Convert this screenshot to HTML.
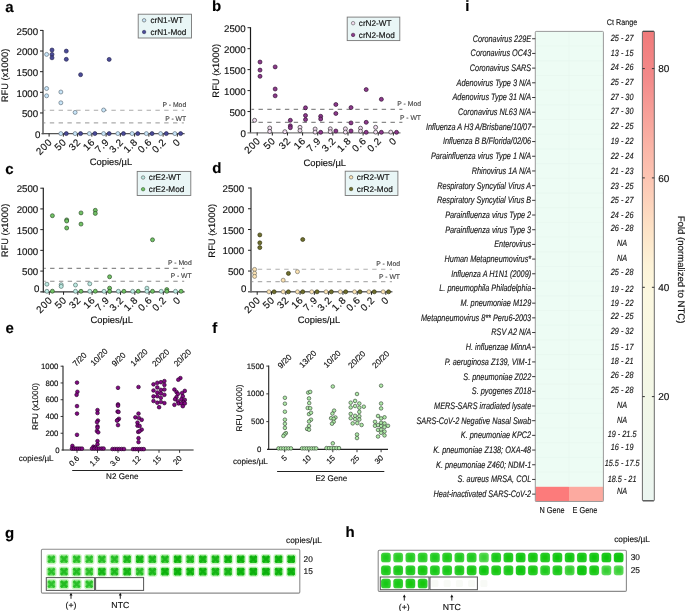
<!DOCTYPE html>
<html><head><meta charset="utf-8"><title>Figure</title>
<style>
html,body{margin:0;padding:0;background:#fff;}
body{width:685px;height:611px;overflow:hidden;}
svg{display:block;will-change:transform;filter:blur(0.3px);text-rendering:geometricPrecision;font-family:"Liberation Sans",sans-serif;}
text{stroke:#111;stroke-width:0.15px;}
text.g{stroke:#3c3c3c;stroke-width:0.1px;}
</style></head>
<body>
<svg width="685" height="611" viewBox="0 0 685 611">
<rect x="0" y="0" width="685" height="611" fill="#fff"/>
<defs><filter id="bl" x="-30%" y="-30%" width="160%" height="160%"><feGaussianBlur stdDeviation="0.45"/></filter><filter id="bl2" x="-30%" y="-30%" width="160%" height="160%"><feGaussianBlur stdDeviation="0.8"/></filter></defs>
<text x="5.20" y="11.50" font-size="15" text-anchor="start" fill="#000" font-weight="bold">a</text>
<text x="212.00" y="11.40" font-size="15" text-anchor="start" fill="#000" font-weight="bold">b</text>
<text x="5.20" y="173.50" font-size="15" text-anchor="start" fill="#000" font-weight="bold">c</text>
<text x="212.20" y="173.40" font-size="15" text-anchor="start" fill="#000" font-weight="bold">d</text>
<text x="5.60" y="333.00" font-size="15" text-anchor="start" fill="#000" font-weight="bold">e</text>
<text x="212.20" y="332.80" font-size="15" text-anchor="start" fill="#000" font-weight="bold">f</text>
<text x="5.00" y="537.90" font-size="15" text-anchor="start" fill="#000" font-weight="bold">g</text>
<text x="345.50" y="537.40" font-size="15" text-anchor="start" fill="#000" font-weight="bold">h</text>
<text x="465.20" y="11.30" font-size="15" text-anchor="start" fill="#000" font-weight="bold">i</text>
<line x1="44.00" y1="110.30" x2="183.90" y2="110.30" stroke="#ababab" stroke-width="1.1" stroke-dasharray="4.4,4.4" stroke-dashoffset="3"/>
<line x1="44.00" y1="122.90" x2="183.90" y2="122.90" stroke="#ababab" stroke-width="1.1" stroke-dasharray="4.4,4.4" stroke-dashoffset="3"/>
<text x="186.20" y="106.70" font-size="6.8" text-anchor="end" fill="#3c3c3c" class="g">P - Mod</text>
<text x="186.20" y="120.80" font-size="6.8" text-anchor="end" fill="#3c3c3c" class="g">P - WT</text>
<line x1="43.00" y1="29.90" x2="43.00" y2="134.20" stroke="#707070" stroke-width="1.7"/>
<line x1="41.50" y1="133.60" x2="184.60" y2="133.60" stroke="#555" stroke-width="1.4"/>
<text x="40.40" y="137.50" font-size="9.7" text-anchor="end" fill="#111">0</text>
<line x1="40.00" y1="112.96" x2="43.00" y2="112.96" stroke="#222" stroke-width="1"/>
<text x="38.10" y="117.16" font-size="9.7" text-anchor="end" fill="#111">500</text>
<line x1="40.00" y1="92.32" x2="43.00" y2="92.32" stroke="#222" stroke-width="1"/>
<text x="38.10" y="96.52" font-size="9.7" text-anchor="end" fill="#111">1000</text>
<line x1="40.00" y1="71.68" x2="43.00" y2="71.68" stroke="#222" stroke-width="1"/>
<text x="38.10" y="75.88" font-size="9.7" text-anchor="end" fill="#111">1500</text>
<line x1="40.00" y1="51.04" x2="43.00" y2="51.04" stroke="#222" stroke-width="1"/>
<text x="38.10" y="55.24" font-size="9.7" text-anchor="end" fill="#111">2000</text>
<line x1="40.00" y1="30.40" x2="43.00" y2="30.40" stroke="#222" stroke-width="1"/>
<text x="38.10" y="34.60" font-size="9.7" text-anchor="end" fill="#111">2500</text>
<line x1="49.10" y1="133.60" x2="49.10" y2="136.60" stroke="#222" stroke-width="1"/>
<text x="0.00" y="0.00" font-size="9.9" text-anchor="end" fill="#111" transform="translate(52.90,142.60) rotate(-45)" letter-spacing="0.55">200</text>
<line x1="63.35" y1="133.60" x2="63.35" y2="136.60" stroke="#222" stroke-width="1"/>
<text x="0.00" y="0.00" font-size="9.9" text-anchor="end" fill="#111" transform="translate(67.15,142.60) rotate(-45)" letter-spacing="0.55">50</text>
<line x1="77.60" y1="133.60" x2="77.60" y2="136.60" stroke="#222" stroke-width="1"/>
<text x="0.00" y="0.00" font-size="9.9" text-anchor="end" fill="#111" transform="translate(81.40,142.60) rotate(-45)" letter-spacing="0.55">32</text>
<line x1="91.85" y1="133.60" x2="91.85" y2="136.60" stroke="#222" stroke-width="1"/>
<text x="0.00" y="0.00" font-size="9.9" text-anchor="end" fill="#111" transform="translate(95.65,142.60) rotate(-45)" letter-spacing="0.55">16</text>
<line x1="106.10" y1="133.60" x2="106.10" y2="136.60" stroke="#222" stroke-width="1"/>
<text x="0.00" y="0.00" font-size="9.9" text-anchor="end" fill="#111" transform="translate(109.90,142.60) rotate(-45)" letter-spacing="0.55">7.9</text>
<line x1="120.35" y1="133.60" x2="120.35" y2="136.60" stroke="#222" stroke-width="1"/>
<text x="0.00" y="0.00" font-size="9.9" text-anchor="end" fill="#111" transform="translate(124.15,142.60) rotate(-45)" letter-spacing="0.55">3.2</text>
<line x1="134.60" y1="133.60" x2="134.60" y2="136.60" stroke="#222" stroke-width="1"/>
<text x="0.00" y="0.00" font-size="9.9" text-anchor="end" fill="#111" transform="translate(138.40,142.60) rotate(-45)" letter-spacing="0.55">1.8</text>
<line x1="148.85" y1="133.60" x2="148.85" y2="136.60" stroke="#222" stroke-width="1"/>
<text x="0.00" y="0.00" font-size="9.9" text-anchor="end" fill="#111" transform="translate(152.65,142.60) rotate(-45)" letter-spacing="0.55">0.6</text>
<line x1="163.10" y1="133.60" x2="163.10" y2="136.60" stroke="#222" stroke-width="1"/>
<text x="0.00" y="0.00" font-size="9.9" text-anchor="end" fill="#111" transform="translate(166.90,142.60) rotate(-45)" letter-spacing="0.55">0.2</text>
<line x1="177.35" y1="133.60" x2="177.35" y2="136.60" stroke="#222" stroke-width="1"/>
<text x="0.00" y="0.00" font-size="9.9" text-anchor="end" fill="#111" transform="translate(181.15,142.60) rotate(-45)" letter-spacing="0.55">0</text>
<text x="0.00" y="0.00" font-size="9.4" text-anchor="middle" fill="#111" transform="translate(8.30,75.50) rotate(-90)">RFU (x1000)</text>
<text x="111.00" y="164.60" font-size="9.4" text-anchor="middle" fill="#111">Copies/µL</text>
<rect x="138.20" y="14.20" width="53.30" height="23.80" fill="#e9f6f6" stroke="#777" stroke-width="0.9" rx="0"/>
<circle cx="144.10" cy="20.30" r="1.75" fill="#c8e6fa" stroke="#555" stroke-width="0.6"/>
<circle cx="144.10" cy="32.00" r="1.75" fill="#4b4b98" stroke="#24244e" stroke-width="0.5"/>
<text x="150.40" y="23.20" font-size="8.2" text-anchor="start" fill="#111">crN1-WT</text>
<text x="150.40" y="35.10" font-size="8.2" text-anchor="start" fill="#111">crN1-Mod</text>
<circle cx="46.60" cy="54.40" r="2.0" fill="#c8e6fa" stroke="#5d6a76" stroke-width="0.65"/>
<circle cx="46.60" cy="88.50" r="2.0" fill="#c8e6fa" stroke="#5d6a76" stroke-width="0.65"/>
<circle cx="46.60" cy="95.80" r="2.0" fill="#c8e6fa" stroke="#5d6a76" stroke-width="0.65"/>
<circle cx="60.85" cy="92.00" r="2.0" fill="#c8e6fa" stroke="#5d6a76" stroke-width="0.65"/>
<circle cx="60.85" cy="102.80" r="2.0" fill="#c8e6fa" stroke="#5d6a76" stroke-width="0.65"/>
<circle cx="60.85" cy="133.60" r="2.0" fill="#c8e6fa" stroke="#5d6a76" stroke-width="0.65"/>
<circle cx="75.10" cy="112.40" r="2.0" fill="#c8e6fa" stroke="#5d6a76" stroke-width="0.65"/>
<circle cx="75.10" cy="133.60" r="2.0" fill="#c8e6fa" stroke="#5d6a76" stroke-width="0.65"/>
<circle cx="89.35" cy="133.60" r="2.0" fill="#c8e6fa" stroke="#5d6a76" stroke-width="0.65"/>
<circle cx="103.60" cy="110.00" r="2.0" fill="#c8e6fa" stroke="#5d6a76" stroke-width="0.65"/>
<circle cx="103.60" cy="133.60" r="2.0" fill="#c8e6fa" stroke="#5d6a76" stroke-width="0.65"/>
<circle cx="117.85" cy="133.60" r="2.0" fill="#c8e6fa" stroke="#5d6a76" stroke-width="0.65"/>
<circle cx="132.10" cy="133.60" r="2.0" fill="#c8e6fa" stroke="#5d6a76" stroke-width="0.65"/>
<circle cx="146.35" cy="133.60" r="2.0" fill="#c8e6fa" stroke="#5d6a76" stroke-width="0.65"/>
<circle cx="160.60" cy="133.60" r="2.0" fill="#c8e6fa" stroke="#5d6a76" stroke-width="0.65"/>
<circle cx="174.85" cy="133.60" r="2.0" fill="#c8e6fa" stroke="#5d6a76" stroke-width="0.65"/>
<circle cx="52.00" cy="50.00" r="2.0" fill="#4b4b98" stroke="#24244e" stroke-width="0.65"/>
<circle cx="52.00" cy="54.40" r="2.0" fill="#4b4b98" stroke="#24244e" stroke-width="0.65"/>
<circle cx="52.00" cy="57.80" r="2.0" fill="#4b4b98" stroke="#24244e" stroke-width="0.65"/>
<circle cx="66.29" cy="51.10" r="2.0" fill="#4b4b98" stroke="#24244e" stroke-width="0.65"/>
<circle cx="66.29" cy="59.30" r="2.0" fill="#4b4b98" stroke="#24244e" stroke-width="0.65"/>
<circle cx="66.29" cy="133.60" r="2.0" fill="#4b4b98" stroke="#24244e" stroke-width="0.65"/>
<circle cx="80.58" cy="74.70" r="2.0" fill="#4b4b98" stroke="#24244e" stroke-width="0.65"/>
<circle cx="80.58" cy="133.60" r="2.0" fill="#4b4b98" stroke="#24244e" stroke-width="0.65"/>
<circle cx="94.87" cy="133.60" r="2.0" fill="#4b4b98" stroke="#24244e" stroke-width="0.65"/>
<circle cx="109.16" cy="59.40" r="2.0" fill="#4b4b98" stroke="#24244e" stroke-width="0.65"/>
<circle cx="109.16" cy="133.60" r="2.0" fill="#4b4b98" stroke="#24244e" stroke-width="0.65"/>
<circle cx="123.45" cy="133.60" r="2.0" fill="#4b4b98" stroke="#24244e" stroke-width="0.65"/>
<circle cx="137.74" cy="133.60" r="2.0" fill="#4b4b98" stroke="#24244e" stroke-width="0.65"/>
<circle cx="152.03" cy="133.60" r="2.0" fill="#4b4b98" stroke="#24244e" stroke-width="0.65"/>
<circle cx="166.32" cy="133.60" r="2.0" fill="#4b4b98" stroke="#24244e" stroke-width="0.65"/>
<circle cx="180.61" cy="133.60" r="2.0" fill="#4b4b98" stroke="#24244e" stroke-width="0.65"/>
<line x1="251.50" y1="109.40" x2="402.40" y2="109.40" stroke="#8a8a8a" stroke-width="1.1" stroke-dasharray="4.4,4.4" stroke-dashoffset="1.8"/>
<line x1="251.50" y1="122.40" x2="402.40" y2="122.40" stroke="#8a8a8a" stroke-width="1.1" stroke-dasharray="4.4,4.4" stroke-dashoffset="1.8"/>
<text x="421.00" y="106.20" font-size="6.8" text-anchor="end" fill="#3c3c3c" class="g">P - Mod</text>
<text x="421.00" y="119.80" font-size="6.8" text-anchor="end" fill="#3c3c3c" class="g">P - WT</text>
<line x1="250.50" y1="27.20" x2="250.50" y2="133.10" stroke="#1a1a1a" stroke-width="1.2"/>
<line x1="247.50" y1="132.90" x2="400.50" y2="132.90" stroke="#7a7a7a" stroke-width="1.3"/>
<text x="245.90" y="136.60" font-size="9.7" text-anchor="end" fill="#111">0</text>
<line x1="247.50" y1="111.54" x2="250.50" y2="111.54" stroke="#222" stroke-width="1"/>
<text x="245.60" y="115.74" font-size="9.7" text-anchor="end" fill="#111">500</text>
<line x1="247.50" y1="90.58" x2="250.50" y2="90.58" stroke="#222" stroke-width="1"/>
<text x="245.60" y="94.78" font-size="9.7" text-anchor="end" fill="#111">1000</text>
<line x1="247.50" y1="69.62" x2="250.50" y2="69.62" stroke="#222" stroke-width="1"/>
<text x="245.60" y="73.82" font-size="9.7" text-anchor="end" fill="#111">1500</text>
<line x1="247.50" y1="48.66" x2="250.50" y2="48.66" stroke="#222" stroke-width="1"/>
<text x="245.60" y="52.86" font-size="9.7" text-anchor="end" fill="#111">2000</text>
<line x1="247.50" y1="27.70" x2="250.50" y2="27.70" stroke="#222" stroke-width="1"/>
<text x="245.60" y="31.90" font-size="9.7" text-anchor="end" fill="#111">2500</text>
<line x1="257.20" y1="132.50" x2="257.20" y2="135.50" stroke="#222" stroke-width="1"/>
<text x="0.00" y="0.00" font-size="9.9" text-anchor="end" fill="#111" transform="translate(261.00,141.50) rotate(-45)" letter-spacing="0.55">200</text>
<line x1="272.33" y1="132.50" x2="272.33" y2="135.50" stroke="#222" stroke-width="1"/>
<text x="0.00" y="0.00" font-size="9.9" text-anchor="end" fill="#111" transform="translate(276.13,141.50) rotate(-45)" letter-spacing="0.55">50</text>
<line x1="287.46" y1="132.50" x2="287.46" y2="135.50" stroke="#222" stroke-width="1"/>
<text x="0.00" y="0.00" font-size="9.9" text-anchor="end" fill="#111" transform="translate(291.26,141.50) rotate(-45)" letter-spacing="0.55">32</text>
<line x1="302.59" y1="132.50" x2="302.59" y2="135.50" stroke="#222" stroke-width="1"/>
<text x="0.00" y="0.00" font-size="9.9" text-anchor="end" fill="#111" transform="translate(306.39,141.50) rotate(-45)" letter-spacing="0.55">16</text>
<line x1="317.72" y1="132.50" x2="317.72" y2="135.50" stroke="#222" stroke-width="1"/>
<text x="0.00" y="0.00" font-size="9.9" text-anchor="end" fill="#111" transform="translate(321.52,141.50) rotate(-45)" letter-spacing="0.55">7.9</text>
<line x1="332.85" y1="132.50" x2="332.85" y2="135.50" stroke="#222" stroke-width="1"/>
<text x="0.00" y="0.00" font-size="9.9" text-anchor="end" fill="#111" transform="translate(336.65,141.50) rotate(-45)" letter-spacing="0.55">3.2</text>
<line x1="347.98" y1="132.50" x2="347.98" y2="135.50" stroke="#222" stroke-width="1"/>
<text x="0.00" y="0.00" font-size="9.9" text-anchor="end" fill="#111" transform="translate(351.78,141.50) rotate(-45)" letter-spacing="0.55">1.8</text>
<line x1="363.11" y1="132.50" x2="363.11" y2="135.50" stroke="#222" stroke-width="1"/>
<text x="0.00" y="0.00" font-size="9.9" text-anchor="end" fill="#111" transform="translate(366.91,141.50) rotate(-45)" letter-spacing="0.55">0.6</text>
<line x1="378.24" y1="132.50" x2="378.24" y2="135.50" stroke="#222" stroke-width="1"/>
<text x="0.00" y="0.00" font-size="9.9" text-anchor="end" fill="#111" transform="translate(382.04,141.50) rotate(-45)" letter-spacing="0.55">0.2</text>
<line x1="393.37" y1="132.50" x2="393.37" y2="135.50" stroke="#222" stroke-width="1"/>
<text x="0.00" y="0.00" font-size="9.9" text-anchor="end" fill="#111" transform="translate(397.17,141.50) rotate(-45)" letter-spacing="0.55">0</text>
<text x="0.00" y="0.00" font-size="9.4" text-anchor="middle" fill="#111" transform="translate(219.00,70.80) rotate(-90)">RFU (x1000)</text>
<text x="324.80" y="165.50" font-size="9.4" text-anchor="middle" fill="#111">Copies/µL</text>
<rect x="347.20" y="17.10" width="52.60" height="23.50" fill="#e9f6f6" stroke="#777" stroke-width="0.9" rx="0"/>
<circle cx="353.10" cy="23.20" r="1.75" fill="#f2dcf0" stroke="#555" stroke-width="0.6"/>
<circle cx="353.10" cy="34.90" r="1.75" fill="#8c3a8c" stroke="#2a0a2a" stroke-width="0.5"/>
<text x="358.80" y="26.10" font-size="8.2" text-anchor="start" fill="#111">crN2-WT</text>
<text x="358.80" y="38.00" font-size="8.2" text-anchor="start" fill="#111">crN2-Mod</text>
<circle cx="254.60" cy="120.30" r="2.0" fill="#f2dcf0" stroke="#222" stroke-width="0.65"/>
<circle cx="269.73" cy="128.00" r="2.0" fill="#f2dcf0" stroke="#222" stroke-width="0.65"/>
<circle cx="269.73" cy="131.40" r="2.0" fill="#f2dcf0" stroke="#222" stroke-width="0.65"/>
<circle cx="284.86" cy="131.70" r="2.0" fill="#f2dcf0" stroke="#222" stroke-width="0.65"/>
<circle cx="299.99" cy="127.30" r="2.0" fill="#f2dcf0" stroke="#222" stroke-width="0.65"/>
<circle cx="299.99" cy="130.60" r="2.0" fill="#f2dcf0" stroke="#222" stroke-width="0.65"/>
<circle cx="315.12" cy="129.00" r="2.0" fill="#f2dcf0" stroke="#222" stroke-width="0.65"/>
<circle cx="315.12" cy="132.10" r="2.0" fill="#f2dcf0" stroke="#222" stroke-width="0.65"/>
<circle cx="330.25" cy="128.80" r="2.0" fill="#f2dcf0" stroke="#222" stroke-width="0.65"/>
<circle cx="330.25" cy="131.70" r="2.0" fill="#f2dcf0" stroke="#222" stroke-width="0.65"/>
<circle cx="345.38" cy="128.80" r="2.0" fill="#f2dcf0" stroke="#222" stroke-width="0.65"/>
<circle cx="345.38" cy="132.10" r="2.0" fill="#f2dcf0" stroke="#222" stroke-width="0.65"/>
<circle cx="360.51" cy="128.20" r="2.0" fill="#f2dcf0" stroke="#222" stroke-width="0.65"/>
<circle cx="360.51" cy="131.20" r="2.0" fill="#f2dcf0" stroke="#222" stroke-width="0.65"/>
<circle cx="375.64" cy="127.30" r="2.0" fill="#f2dcf0" stroke="#222" stroke-width="0.65"/>
<circle cx="375.64" cy="132.10" r="2.0" fill="#f2dcf0" stroke="#222" stroke-width="0.65"/>
<circle cx="390.77" cy="132.10" r="2.0" fill="#f2dcf0" stroke="#222" stroke-width="0.65"/>
<circle cx="260.00" cy="62.00" r="2.0" fill="#8c3a8c" stroke="#2a0a2a" stroke-width="0.65"/>
<circle cx="260.00" cy="70.10" r="2.0" fill="#8c3a8c" stroke="#2a0a2a" stroke-width="0.65"/>
<circle cx="260.00" cy="76.30" r="2.0" fill="#8c3a8c" stroke="#2a0a2a" stroke-width="0.65"/>
<circle cx="275.17" cy="66.90" r="2.0" fill="#8c3a8c" stroke="#2a0a2a" stroke-width="0.65"/>
<circle cx="275.17" cy="89.00" r="2.0" fill="#8c3a8c" stroke="#2a0a2a" stroke-width="0.65"/>
<circle cx="275.17" cy="95.80" r="2.0" fill="#8c3a8c" stroke="#2a0a2a" stroke-width="0.65"/>
<circle cx="290.34" cy="120.30" r="2.0" fill="#8c3a8c" stroke="#2a0a2a" stroke-width="0.65"/>
<circle cx="290.34" cy="125.80" r="2.0" fill="#8c3a8c" stroke="#2a0a2a" stroke-width="0.65"/>
<circle cx="290.34" cy="127.70" r="2.0" fill="#8c3a8c" stroke="#2a0a2a" stroke-width="0.65"/>
<circle cx="305.51" cy="107.80" r="2.0" fill="#8c3a8c" stroke="#2a0a2a" stroke-width="0.65"/>
<circle cx="305.51" cy="115.50" r="2.0" fill="#8c3a8c" stroke="#2a0a2a" stroke-width="0.65"/>
<circle cx="305.51" cy="119.60" r="2.0" fill="#8c3a8c" stroke="#2a0a2a" stroke-width="0.65"/>
<circle cx="320.68" cy="116.30" r="2.0" fill="#8c3a8c" stroke="#2a0a2a" stroke-width="0.65"/>
<circle cx="320.68" cy="119.00" r="2.0" fill="#8c3a8c" stroke="#2a0a2a" stroke-width="0.65"/>
<circle cx="320.68" cy="132.30" r="2.0" fill="#8c3a8c" stroke="#2a0a2a" stroke-width="0.65"/>
<circle cx="335.85" cy="104.50" r="2.0" fill="#8c3a8c" stroke="#2a0a2a" stroke-width="0.65"/>
<circle cx="335.85" cy="113.50" r="2.0" fill="#8c3a8c" stroke="#2a0a2a" stroke-width="0.65"/>
<circle cx="335.85" cy="131.00" r="2.0" fill="#8c3a8c" stroke="#2a0a2a" stroke-width="0.65"/>
<circle cx="351.02" cy="107.60" r="2.0" fill="#8c3a8c" stroke="#2a0a2a" stroke-width="0.65"/>
<circle cx="351.02" cy="122.90" r="2.0" fill="#8c3a8c" stroke="#2a0a2a" stroke-width="0.65"/>
<circle cx="351.02" cy="131.00" r="2.0" fill="#8c3a8c" stroke="#2a0a2a" stroke-width="0.65"/>
<circle cx="366.19" cy="89.60" r="2.0" fill="#8c3a8c" stroke="#2a0a2a" stroke-width="0.65"/>
<circle cx="366.19" cy="122.30" r="2.0" fill="#8c3a8c" stroke="#2a0a2a" stroke-width="0.65"/>
<circle cx="366.19" cy="132.30" r="2.0" fill="#8c3a8c" stroke="#2a0a2a" stroke-width="0.65"/>
<circle cx="381.36" cy="99.30" r="2.0" fill="#8c3a8c" stroke="#2a0a2a" stroke-width="0.65"/>
<circle cx="381.36" cy="132.30" r="2.0" fill="#8c3a8c" stroke="#2a0a2a" stroke-width="0.65"/>
<circle cx="396.53" cy="132.30" r="2.0" fill="#8c3a8c" stroke="#2a0a2a" stroke-width="0.65"/>
<line x1="44.30" y1="268.40" x2="184.20" y2="268.40" stroke="#8a8a8a" stroke-width="1.1" stroke-dasharray="4.4,4.4" stroke-dashoffset="3"/>
<line x1="44.30" y1="281.30" x2="184.20" y2="281.30" stroke="#8a8a8a" stroke-width="1.1" stroke-dasharray="4.4,4.4" stroke-dashoffset="3"/>
<text x="191.70" y="265.00" font-size="6.8" text-anchor="end" fill="#3c3c3c" class="g">P - Mod</text>
<text x="191.70" y="278.40" font-size="6.8" text-anchor="end" fill="#3c3c3c" class="g">P - WT</text>
<line x1="43.30" y1="187.70" x2="43.30" y2="292.40" stroke="#222" stroke-width="1.2"/>
<line x1="40.30" y1="291.80" x2="184.60" y2="291.80" stroke="#333" stroke-width="1.3"/>
<text x="39.40" y="291.80" font-size="9.7" text-anchor="end" fill="#111">0</text>
<line x1="40.30" y1="271.08" x2="43.30" y2="271.08" stroke="#222" stroke-width="1"/>
<text x="38.20" y="275.28" font-size="9.7" text-anchor="end" fill="#111">500</text>
<line x1="40.30" y1="250.36" x2="43.30" y2="250.36" stroke="#222" stroke-width="1"/>
<text x="38.20" y="254.56" font-size="9.7" text-anchor="end" fill="#111">1000</text>
<line x1="40.30" y1="229.64" x2="43.30" y2="229.64" stroke="#222" stroke-width="1"/>
<text x="38.20" y="233.84" font-size="9.7" text-anchor="end" fill="#111">1500</text>
<line x1="40.30" y1="208.92" x2="43.30" y2="208.92" stroke="#222" stroke-width="1"/>
<text x="38.20" y="213.12" font-size="9.7" text-anchor="end" fill="#111">2000</text>
<line x1="40.30" y1="188.20" x2="43.30" y2="188.20" stroke="#222" stroke-width="1"/>
<text x="38.20" y="192.40" font-size="9.7" text-anchor="end" fill="#111">2500</text>
<line x1="49.30" y1="291.80" x2="49.30" y2="294.80" stroke="#222" stroke-width="1"/>
<text x="0.00" y="0.00" font-size="9.9" text-anchor="end" fill="#111" transform="translate(53.10,300.80) rotate(-45)" letter-spacing="0.55">200</text>
<line x1="63.55" y1="291.80" x2="63.55" y2="294.80" stroke="#222" stroke-width="1"/>
<text x="0.00" y="0.00" font-size="9.9" text-anchor="end" fill="#111" transform="translate(67.35,300.80) rotate(-45)" letter-spacing="0.55">50</text>
<line x1="77.80" y1="291.80" x2="77.80" y2="294.80" stroke="#222" stroke-width="1"/>
<text x="0.00" y="0.00" font-size="9.9" text-anchor="end" fill="#111" transform="translate(81.60,300.80) rotate(-45)" letter-spacing="0.55">32</text>
<line x1="92.05" y1="291.80" x2="92.05" y2="294.80" stroke="#222" stroke-width="1"/>
<text x="0.00" y="0.00" font-size="9.9" text-anchor="end" fill="#111" transform="translate(95.85,300.80) rotate(-45)" letter-spacing="0.55">16</text>
<line x1="106.30" y1="291.80" x2="106.30" y2="294.80" stroke="#222" stroke-width="1"/>
<text x="0.00" y="0.00" font-size="9.9" text-anchor="end" fill="#111" transform="translate(110.10,300.80) rotate(-45)" letter-spacing="0.55">7.9</text>
<line x1="120.55" y1="291.80" x2="120.55" y2="294.80" stroke="#222" stroke-width="1"/>
<text x="0.00" y="0.00" font-size="9.9" text-anchor="end" fill="#111" transform="translate(124.35,300.80) rotate(-45)" letter-spacing="0.55">3.2</text>
<line x1="134.80" y1="291.80" x2="134.80" y2="294.80" stroke="#222" stroke-width="1"/>
<text x="0.00" y="0.00" font-size="9.9" text-anchor="end" fill="#111" transform="translate(138.60,300.80) rotate(-45)" letter-spacing="0.55">1.8</text>
<line x1="149.05" y1="291.80" x2="149.05" y2="294.80" stroke="#222" stroke-width="1"/>
<text x="0.00" y="0.00" font-size="9.9" text-anchor="end" fill="#111" transform="translate(152.85,300.80) rotate(-45)" letter-spacing="0.55">0.6</text>
<line x1="163.30" y1="291.80" x2="163.30" y2="294.80" stroke="#222" stroke-width="1"/>
<text x="0.00" y="0.00" font-size="9.9" text-anchor="end" fill="#111" transform="translate(167.10,300.80) rotate(-45)" letter-spacing="0.55">0.2</text>
<line x1="177.55" y1="291.80" x2="177.55" y2="294.80" stroke="#222" stroke-width="1"/>
<text x="0.00" y="0.00" font-size="9.9" text-anchor="end" fill="#111" transform="translate(181.35,300.80) rotate(-45)" letter-spacing="0.55">0</text>
<text x="0.00" y="0.00" font-size="9.4" text-anchor="middle" fill="#111" transform="translate(8.30,230.50) rotate(-90)">RFU (x1000)</text>
<text x="111.70" y="322.70" font-size="9.4" text-anchor="middle" fill="#111">Copies/µL</text>
<rect x="137.20" y="171.40" width="53.60" height="24.10" fill="#e9f6f6" stroke="#777" stroke-width="0.9" rx="0"/>
<circle cx="143.10" cy="177.50" r="1.75" fill="#bdeae2" stroke="#555" stroke-width="0.6"/>
<circle cx="143.10" cy="189.20" r="1.75" fill="#72c266" stroke="#2a4a26" stroke-width="0.5"/>
<text x="148.80" y="180.40" font-size="8.2" text-anchor="start" fill="#111">crE2-WT</text>
<text x="148.80" y="192.30" font-size="8.2" text-anchor="start" fill="#111">crE2-Mod</text>
<circle cx="46.90" cy="284.20" r="2.0" fill="#bdeae2" stroke="#4f6a66" stroke-width="0.65"/>
<circle cx="46.90" cy="291.30" r="2.0" fill="#bdeae2" stroke="#4f6a66" stroke-width="0.65"/>
<circle cx="61.19" cy="284.70" r="2.0" fill="#bdeae2" stroke="#4f6a66" stroke-width="0.65"/>
<circle cx="61.19" cy="286.40" r="2.0" fill="#bdeae2" stroke="#4f6a66" stroke-width="0.65"/>
<circle cx="75.48" cy="285.00" r="2.0" fill="#bdeae2" stroke="#4f6a66" stroke-width="0.65"/>
<circle cx="75.48" cy="291.30" r="2.0" fill="#bdeae2" stroke="#4f6a66" stroke-width="0.65"/>
<circle cx="89.77" cy="283.80" r="2.0" fill="#bdeae2" stroke="#4f6a66" stroke-width="0.65"/>
<circle cx="89.77" cy="291.30" r="2.0" fill="#bdeae2" stroke="#4f6a66" stroke-width="0.65"/>
<circle cx="104.06" cy="291.30" r="2.0" fill="#bdeae2" stroke="#4f6a66" stroke-width="0.65"/>
<circle cx="118.35" cy="291.30" r="2.0" fill="#bdeae2" stroke="#4f6a66" stroke-width="0.65"/>
<circle cx="132.64" cy="291.30" r="2.0" fill="#bdeae2" stroke="#4f6a66" stroke-width="0.65"/>
<circle cx="146.93" cy="288.20" r="2.0" fill="#bdeae2" stroke="#4f6a66" stroke-width="0.65"/>
<circle cx="146.93" cy="291.30" r="2.0" fill="#bdeae2" stroke="#4f6a66" stroke-width="0.65"/>
<circle cx="161.22" cy="291.30" r="2.0" fill="#bdeae2" stroke="#4f6a66" stroke-width="0.65"/>
<circle cx="175.51" cy="291.30" r="2.0" fill="#bdeae2" stroke="#4f6a66" stroke-width="0.65"/>
<circle cx="52.40" cy="215.70" r="2.0" fill="#72c266" stroke="#2a4a26" stroke-width="0.65"/>
<circle cx="52.40" cy="291.20" r="2.0" fill="#72c266" stroke="#2a4a26" stroke-width="0.65"/>
<circle cx="66.70" cy="219.90" r="2.0" fill="#72c266" stroke="#2a4a26" stroke-width="0.65"/>
<circle cx="66.70" cy="221.00" r="2.0" fill="#72c266" stroke="#2a4a26" stroke-width="0.65"/>
<circle cx="66.70" cy="228.00" r="2.0" fill="#72c266" stroke="#2a4a26" stroke-width="0.65"/>
<circle cx="81.00" cy="212.90" r="2.0" fill="#72c266" stroke="#2a4a26" stroke-width="0.65"/>
<circle cx="81.00" cy="224.10" r="2.0" fill="#72c266" stroke="#2a4a26" stroke-width="0.65"/>
<circle cx="81.00" cy="291.30" r="2.0" fill="#72c266" stroke="#2a4a26" stroke-width="0.65"/>
<circle cx="95.30" cy="210.30" r="2.0" fill="#72c266" stroke="#2a4a26" stroke-width="0.65"/>
<circle cx="95.30" cy="213.40" r="2.0" fill="#72c266" stroke="#2a4a26" stroke-width="0.65"/>
<circle cx="95.30" cy="291.20" r="2.0" fill="#72c266" stroke="#2a4a26" stroke-width="0.65"/>
<circle cx="109.60" cy="276.80" r="2.0" fill="#72c266" stroke="#2a4a26" stroke-width="0.65"/>
<circle cx="109.60" cy="288.20" r="2.0" fill="#72c266" stroke="#2a4a26" stroke-width="0.65"/>
<circle cx="109.60" cy="291.40" r="2.0" fill="#72c266" stroke="#2a4a26" stroke-width="0.65"/>
<circle cx="123.90" cy="291.30" r="2.0" fill="#72c266" stroke="#2a4a26" stroke-width="0.65"/>
<circle cx="138.20" cy="291.30" r="2.0" fill="#72c266" stroke="#2a4a26" stroke-width="0.65"/>
<circle cx="152.50" cy="239.80" r="2.0" fill="#72c266" stroke="#2a4a26" stroke-width="0.65"/>
<circle cx="152.50" cy="291.30" r="2.0" fill="#72c266" stroke="#2a4a26" stroke-width="0.65"/>
<circle cx="166.80" cy="289.60" r="2.0" fill="#72c266" stroke="#2a4a26" stroke-width="0.65"/>
<circle cx="166.80" cy="291.30" r="2.0" fill="#72c266" stroke="#2a4a26" stroke-width="0.65"/>
<circle cx="181.10" cy="291.30" r="2.0" fill="#72c266" stroke="#2a4a26" stroke-width="0.65"/>
<line x1="252.00" y1="269.20" x2="392.00" y2="269.20" stroke="#b0b0b0" stroke-width="1.1" stroke-dasharray="4.4,4.4" stroke-dashoffset="3"/>
<line x1="252.00" y1="281.60" x2="392.00" y2="281.60" stroke="#b0b0b0" stroke-width="1.1" stroke-dasharray="4.4,4.4" stroke-dashoffset="3"/>
<text x="400.00" y="265.70" font-size="6.8" text-anchor="end" fill="#3c3c3c" class="g">P - Mod</text>
<text x="400.00" y="279.30" font-size="6.8" text-anchor="end" fill="#3c3c3c" class="g">P - WT</text>
<line x1="251.00" y1="187.50" x2="251.00" y2="292.40" stroke="#707070" stroke-width="1.7"/>
<line x1="248.00" y1="291.80" x2="392.40" y2="291.80" stroke="#6a6a6a" stroke-width="1.5"/>
<text x="246.40" y="291.90" font-size="9.7" text-anchor="end" fill="#111">0</text>
<line x1="248.00" y1="271.04" x2="251.00" y2="271.04" stroke="#222" stroke-width="1"/>
<text x="244.10" y="275.24" font-size="9.7" text-anchor="end" fill="#111">500</text>
<line x1="248.00" y1="250.28" x2="251.00" y2="250.28" stroke="#222" stroke-width="1"/>
<text x="244.10" y="254.48" font-size="9.7" text-anchor="end" fill="#111">1000</text>
<line x1="248.00" y1="229.52" x2="251.00" y2="229.52" stroke="#222" stroke-width="1"/>
<text x="244.10" y="233.72" font-size="9.7" text-anchor="end" fill="#111">1500</text>
<line x1="248.00" y1="208.76" x2="251.00" y2="208.76" stroke="#222" stroke-width="1"/>
<text x="244.10" y="212.96" font-size="9.7" text-anchor="end" fill="#111">2000</text>
<line x1="248.00" y1="188.00" x2="251.00" y2="188.00" stroke="#222" stroke-width="1"/>
<text x="244.10" y="192.20" font-size="9.7" text-anchor="end" fill="#111">2500</text>
<line x1="257.20" y1="291.80" x2="257.20" y2="294.80" stroke="#222" stroke-width="1"/>
<text x="0.00" y="0.00" font-size="9.9" text-anchor="end" fill="#111" transform="translate(261.00,300.80) rotate(-45)" letter-spacing="0.55">200</text>
<line x1="271.49" y1="291.80" x2="271.49" y2="294.80" stroke="#222" stroke-width="1"/>
<text x="0.00" y="0.00" font-size="9.9" text-anchor="end" fill="#111" transform="translate(275.29,300.80) rotate(-45)" letter-spacing="0.55">50</text>
<line x1="285.78" y1="291.80" x2="285.78" y2="294.80" stroke="#222" stroke-width="1"/>
<text x="0.00" y="0.00" font-size="9.9" text-anchor="end" fill="#111" transform="translate(289.58,300.80) rotate(-45)" letter-spacing="0.55">32</text>
<line x1="300.07" y1="291.80" x2="300.07" y2="294.80" stroke="#222" stroke-width="1"/>
<text x="0.00" y="0.00" font-size="9.9" text-anchor="end" fill="#111" transform="translate(303.87,300.80) rotate(-45)" letter-spacing="0.55">16</text>
<line x1="314.36" y1="291.80" x2="314.36" y2="294.80" stroke="#222" stroke-width="1"/>
<text x="0.00" y="0.00" font-size="9.9" text-anchor="end" fill="#111" transform="translate(318.16,300.80) rotate(-45)" letter-spacing="0.55">7.9</text>
<line x1="328.65" y1="291.80" x2="328.65" y2="294.80" stroke="#222" stroke-width="1"/>
<text x="0.00" y="0.00" font-size="9.9" text-anchor="end" fill="#111" transform="translate(332.45,300.80) rotate(-45)" letter-spacing="0.55">3.2</text>
<line x1="342.94" y1="291.80" x2="342.94" y2="294.80" stroke="#222" stroke-width="1"/>
<text x="0.00" y="0.00" font-size="9.9" text-anchor="end" fill="#111" transform="translate(346.74,300.80) rotate(-45)" letter-spacing="0.55">1.8</text>
<line x1="357.23" y1="291.80" x2="357.23" y2="294.80" stroke="#222" stroke-width="1"/>
<text x="0.00" y="0.00" font-size="9.9" text-anchor="end" fill="#111" transform="translate(361.03,300.80) rotate(-45)" letter-spacing="0.55">0.6</text>
<line x1="371.52" y1="291.80" x2="371.52" y2="294.80" stroke="#222" stroke-width="1"/>
<text x="0.00" y="0.00" font-size="9.9" text-anchor="end" fill="#111" transform="translate(375.32,300.80) rotate(-45)" letter-spacing="0.55">0.2</text>
<line x1="385.81" y1="291.80" x2="385.81" y2="294.80" stroke="#222" stroke-width="1"/>
<text x="0.00" y="0.00" font-size="9.9" text-anchor="end" fill="#111" transform="translate(389.61,300.80) rotate(-45)" letter-spacing="0.55">0</text>
<text x="0.00" y="0.00" font-size="9.4" text-anchor="middle" fill="#111" transform="translate(215.20,230.80) rotate(-90)">RFU (x1000)</text>
<text x="319.00" y="322.70" font-size="9.4" text-anchor="middle" fill="#111">Copies/µL</text>
<rect x="345.20" y="171.20" width="52.70" height="24.30" fill="#e9f6f6" stroke="#777" stroke-width="0.9" rx="0"/>
<circle cx="351.10" cy="177.30" r="1.75" fill="#fde4b4" stroke="#555" stroke-width="0.6"/>
<circle cx="351.10" cy="189.00" r="1.75" fill="#6f6f2e" stroke="#30300e" stroke-width="0.5"/>
<text x="356.80" y="180.20" font-size="8.2" text-anchor="start" fill="#111">crR2-WT</text>
<text x="356.80" y="192.10" font-size="8.2" text-anchor="start" fill="#111">crR2-Mod</text>
<circle cx="254.60" cy="269.40" r="2.0" fill="#fde4b4" stroke="#6d6a60" stroke-width="0.65"/>
<circle cx="254.60" cy="273.20" r="2.0" fill="#fde4b4" stroke="#6d6a60" stroke-width="0.65"/>
<circle cx="254.60" cy="276.40" r="2.0" fill="#fde4b4" stroke="#6d6a60" stroke-width="0.65"/>
<circle cx="268.88" cy="291.80" r="2.0" fill="#fde4b4" stroke="#6d6a60" stroke-width="0.65"/>
<circle cx="283.16" cy="280.20" r="2.0" fill="#fde4b4" stroke="#6d6a60" stroke-width="0.65"/>
<circle cx="283.16" cy="291.80" r="2.0" fill="#fde4b4" stroke="#6d6a60" stroke-width="0.65"/>
<circle cx="297.44" cy="271.70" r="2.0" fill="#fde4b4" stroke="#6d6a60" stroke-width="0.65"/>
<circle cx="297.44" cy="291.80" r="2.0" fill="#fde4b4" stroke="#6d6a60" stroke-width="0.65"/>
<circle cx="311.72" cy="291.80" r="2.0" fill="#fde4b4" stroke="#6d6a60" stroke-width="0.65"/>
<circle cx="326.00" cy="291.80" r="2.0" fill="#fde4b4" stroke="#6d6a60" stroke-width="0.65"/>
<circle cx="340.28" cy="291.80" r="2.0" fill="#fde4b4" stroke="#6d6a60" stroke-width="0.65"/>
<circle cx="354.56" cy="291.80" r="2.0" fill="#fde4b4" stroke="#6d6a60" stroke-width="0.65"/>
<circle cx="368.84" cy="291.80" r="2.0" fill="#fde4b4" stroke="#6d6a60" stroke-width="0.65"/>
<circle cx="383.12" cy="291.80" r="2.0" fill="#fde4b4" stroke="#6d6a60" stroke-width="0.65"/>
<circle cx="259.80" cy="234.90" r="2.0" fill="#6f6f2e" stroke="#30300e" stroke-width="0.65"/>
<circle cx="259.80" cy="242.80" r="2.0" fill="#6f6f2e" stroke="#30300e" stroke-width="0.65"/>
<circle cx="259.80" cy="247.60" r="2.0" fill="#6f6f2e" stroke="#30300e" stroke-width="0.65"/>
<circle cx="274.11" cy="291.80" r="2.0" fill="#6f6f2e" stroke="#30300e" stroke-width="0.65"/>
<circle cx="288.42" cy="273.40" r="2.0" fill="#6f6f2e" stroke="#30300e" stroke-width="0.65"/>
<circle cx="288.42" cy="291.80" r="2.0" fill="#6f6f2e" stroke="#30300e" stroke-width="0.65"/>
<circle cx="302.73" cy="239.50" r="2.0" fill="#6f6f2e" stroke="#30300e" stroke-width="0.65"/>
<circle cx="302.73" cy="291.80" r="2.0" fill="#6f6f2e" stroke="#30300e" stroke-width="0.65"/>
<circle cx="317.04" cy="291.80" r="2.0" fill="#6f6f2e" stroke="#30300e" stroke-width="0.65"/>
<circle cx="331.35" cy="291.80" r="2.0" fill="#6f6f2e" stroke="#30300e" stroke-width="0.65"/>
<circle cx="345.66" cy="291.80" r="2.0" fill="#6f6f2e" stroke="#30300e" stroke-width="0.65"/>
<circle cx="359.97" cy="291.80" r="2.0" fill="#6f6f2e" stroke="#30300e" stroke-width="0.65"/>
<circle cx="374.28" cy="291.80" r="2.0" fill="#6f6f2e" stroke="#30300e" stroke-width="0.65"/>
<circle cx="388.59" cy="291.80" r="2.0" fill="#6f6f2e" stroke="#30300e" stroke-width="0.65"/>
<line x1="63.00" y1="365.70" x2="63.00" y2="450.50" stroke="#222" stroke-width="1.1"/>
<line x1="61.50" y1="450.00" x2="193.60" y2="450.00" stroke="#222" stroke-width="1.1"/>
<text x="59.60" y="452.60" font-size="7.8" text-anchor="end" fill="#111">0</text>
<line x1="60.60" y1="433.24" x2="63.00" y2="433.24" stroke="#222" stroke-width="0.9"/>
<text x="58.40" y="435.84" font-size="7.8" text-anchor="end" fill="#111">200</text>
<line x1="60.60" y1="416.48" x2="63.00" y2="416.48" stroke="#222" stroke-width="0.9"/>
<text x="58.40" y="419.08" font-size="7.8" text-anchor="end" fill="#111">400</text>
<line x1="60.60" y1="399.72" x2="63.00" y2="399.72" stroke="#222" stroke-width="0.9"/>
<text x="58.40" y="402.32" font-size="7.8" text-anchor="end" fill="#111">600</text>
<line x1="60.60" y1="382.96" x2="63.00" y2="382.96" stroke="#222" stroke-width="0.9"/>
<text x="58.40" y="385.56" font-size="7.8" text-anchor="end" fill="#111">800</text>
<line x1="60.60" y1="366.20" x2="63.00" y2="366.20" stroke="#222" stroke-width="0.9"/>
<text x="58.40" y="368.80" font-size="7.8" text-anchor="end" fill="#111">1000</text>
<line x1="77.00" y1="450.00" x2="77.00" y2="452.80" stroke="#222" stroke-width="0.9"/>
<text x="0.00" y="0.00" font-size="7.8" text-anchor="end" fill="#111" transform="translate(79.80,459.00) rotate(-45)">0.6</text>
<text x="0.00" y="0.00" font-size="8.2" text-anchor="middle" fill="#111" transform="translate(81.60,361.40) rotate(-45)">7/20</text>
<line x1="97.50" y1="450.00" x2="97.50" y2="452.80" stroke="#222" stroke-width="0.9"/>
<text x="0.00" y="0.00" font-size="7.8" text-anchor="end" fill="#111" transform="translate(100.30,459.00) rotate(-45)">1.8</text>
<text x="0.00" y="0.00" font-size="8.2" text-anchor="middle" fill="#111" transform="translate(101.00,359.10) rotate(-45)">10/20</text>
<line x1="118.00" y1="450.00" x2="118.00" y2="452.80" stroke="#222" stroke-width="0.9"/>
<text x="0.00" y="0.00" font-size="7.8" text-anchor="end" fill="#111" transform="translate(120.80,459.00) rotate(-45)">3.6</text>
<text x="0.00" y="0.00" font-size="8.2" text-anchor="middle" fill="#111" transform="translate(120.60,361.40) rotate(-45)">9/20</text>
<line x1="138.50" y1="450.00" x2="138.50" y2="452.80" stroke="#222" stroke-width="0.9"/>
<text x="0.00" y="0.00" font-size="7.8" text-anchor="end" fill="#111" transform="translate(141.30,459.00) rotate(-45)">12</text>
<text x="0.00" y="0.00" font-size="8.2" text-anchor="middle" fill="#111" transform="translate(141.00,359.40) rotate(-45)">14/20</text>
<line x1="159.00" y1="450.00" x2="159.00" y2="452.80" stroke="#222" stroke-width="0.9"/>
<text x="0.00" y="0.00" font-size="7.8" text-anchor="end" fill="#111" transform="translate(161.80,459.00) rotate(-45)">15</text>
<text x="0.00" y="0.00" font-size="8.2" text-anchor="middle" fill="#111" transform="translate(162.70,359.70) rotate(-45)">20/20</text>
<line x1="179.60" y1="450.00" x2="179.60" y2="452.80" stroke="#222" stroke-width="0.9"/>
<text x="0.00" y="0.00" font-size="7.8" text-anchor="end" fill="#111" transform="translate(182.40,459.00) rotate(-45)">20</text>
<text x="0.00" y="0.00" font-size="8.2" text-anchor="middle" fill="#111" transform="translate(184.40,359.70) rotate(-45)">20/20</text>
<text x="0.00" y="0.00" font-size="8.2" text-anchor="middle" fill="#111" transform="translate(38.20,406.50) rotate(-90)">RFU (x1000)</text>
<text x="53.60" y="461.40" font-size="8.1" text-anchor="end" fill="#111">copies/µL</text>
<line x1="72.20" y1="470.50" x2="182.60" y2="470.50" stroke="#222" stroke-width="1.0"/>
<text x="122.30" y="478.80" font-size="8.1" text-anchor="middle" fill="#111">N2 Gene</text>
<circle cx="77.00" cy="382.60" r="1.85" fill="#820a84" stroke="#220022" stroke-width="0.6"/>
<circle cx="77.40" cy="391.80" r="1.85" fill="#820a84" stroke="#220022" stroke-width="0.6"/>
<circle cx="76.60" cy="394.80" r="1.85" fill="#820a84" stroke="#220022" stroke-width="0.6"/>
<circle cx="77.00" cy="406.10" r="1.85" fill="#820a84" stroke="#220022" stroke-width="0.6"/>
<circle cx="77.00" cy="413.60" r="1.85" fill="#820a84" stroke="#220022" stroke-width="0.6"/>
<circle cx="77.00" cy="434.80" r="1.85" fill="#820a84" stroke="#220022" stroke-width="0.6"/>
<circle cx="72.40" cy="445.90" r="1.85" fill="#820a84" stroke="#220022" stroke-width="0.6"/>
<circle cx="72.00" cy="448.60" r="1.85" fill="#820a84" stroke="#220022" stroke-width="0.6"/>
<circle cx="74.00" cy="448.60" r="1.85" fill="#820a84" stroke="#220022" stroke-width="0.6"/>
<circle cx="76.00" cy="448.60" r="1.85" fill="#820a84" stroke="#220022" stroke-width="0.6"/>
<circle cx="78.00" cy="448.60" r="1.85" fill="#820a84" stroke="#220022" stroke-width="0.6"/>
<circle cx="80.00" cy="448.60" r="1.85" fill="#820a84" stroke="#220022" stroke-width="0.6"/>
<circle cx="82.00" cy="448.60" r="1.85" fill="#820a84" stroke="#220022" stroke-width="0.6"/>
<circle cx="97.50" cy="410.10" r="1.85" fill="#820a84" stroke="#220022" stroke-width="0.6"/>
<circle cx="97.50" cy="413.00" r="1.85" fill="#820a84" stroke="#220022" stroke-width="0.6"/>
<circle cx="97.90" cy="420.50" r="1.85" fill="#820a84" stroke="#220022" stroke-width="0.6"/>
<circle cx="97.00" cy="422.10" r="1.85" fill="#820a84" stroke="#220022" stroke-width="0.6"/>
<circle cx="97.50" cy="426.40" r="1.85" fill="#820a84" stroke="#220022" stroke-width="0.6"/>
<circle cx="97.50" cy="427.70" r="1.85" fill="#820a84" stroke="#220022" stroke-width="0.6"/>
<circle cx="96.90" cy="431.00" r="1.85" fill="#820a84" stroke="#220022" stroke-width="0.6"/>
<circle cx="98.20" cy="432.30" r="1.85" fill="#820a84" stroke="#220022" stroke-width="0.6"/>
<circle cx="97.50" cy="441.10" r="1.85" fill="#820a84" stroke="#220022" stroke-width="0.6"/>
<circle cx="97.50" cy="444.30" r="1.85" fill="#820a84" stroke="#220022" stroke-width="0.6"/>
<circle cx="93.40" cy="446.70" r="1.85" fill="#820a84" stroke="#220022" stroke-width="0.6"/>
<circle cx="95.30" cy="447.20" r="1.85" fill="#820a84" stroke="#220022" stroke-width="0.6"/>
<circle cx="92.00" cy="448.50" r="1.85" fill="#820a84" stroke="#220022" stroke-width="0.6"/>
<circle cx="94.40" cy="448.50" r="1.85" fill="#820a84" stroke="#220022" stroke-width="0.6"/>
<circle cx="96.80" cy="448.50" r="1.85" fill="#820a84" stroke="#220022" stroke-width="0.6"/>
<circle cx="99.20" cy="448.50" r="1.85" fill="#820a84" stroke="#220022" stroke-width="0.6"/>
<circle cx="101.60" cy="448.50" r="1.85" fill="#820a84" stroke="#220022" stroke-width="0.6"/>
<circle cx="103.60" cy="448.50" r="1.85" fill="#820a84" stroke="#220022" stroke-width="0.6"/>
<circle cx="118.00" cy="387.80" r="1.85" fill="#820a84" stroke="#220022" stroke-width="0.6"/>
<circle cx="118.00" cy="404.40" r="1.85" fill="#820a84" stroke="#220022" stroke-width="0.6"/>
<circle cx="118.00" cy="405.70" r="1.85" fill="#820a84" stroke="#220022" stroke-width="0.6"/>
<circle cx="117.60" cy="411.60" r="1.85" fill="#820a84" stroke="#220022" stroke-width="0.6"/>
<circle cx="118.50" cy="411.90" r="1.85" fill="#820a84" stroke="#220022" stroke-width="0.6"/>
<circle cx="118.90" cy="418.80" r="1.85" fill="#820a84" stroke="#220022" stroke-width="0.6"/>
<circle cx="117.60" cy="420.10" r="1.85" fill="#820a84" stroke="#220022" stroke-width="0.6"/>
<circle cx="117.00" cy="420.60" r="1.85" fill="#820a84" stroke="#220022" stroke-width="0.6"/>
<circle cx="118.00" cy="425.10" r="1.85" fill="#820a84" stroke="#220022" stroke-width="0.6"/>
<circle cx="112.50" cy="449.00" r="1.85" fill="#820a84" stroke="#220022" stroke-width="0.6"/>
<circle cx="114.80" cy="449.00" r="1.85" fill="#820a84" stroke="#220022" stroke-width="0.6"/>
<circle cx="117.10" cy="449.00" r="1.85" fill="#820a84" stroke="#220022" stroke-width="0.6"/>
<circle cx="119.40" cy="449.00" r="1.85" fill="#820a84" stroke="#220022" stroke-width="0.6"/>
<circle cx="121.70" cy="449.00" r="1.85" fill="#820a84" stroke="#220022" stroke-width="0.6"/>
<circle cx="124.00" cy="449.00" r="1.85" fill="#820a84" stroke="#220022" stroke-width="0.6"/>
<circle cx="138.50" cy="387.00" r="1.85" fill="#820a84" stroke="#220022" stroke-width="0.6"/>
<circle cx="138.50" cy="413.60" r="1.85" fill="#820a84" stroke="#220022" stroke-width="0.6"/>
<circle cx="135.40" cy="417.30" r="1.85" fill="#820a84" stroke="#220022" stroke-width="0.6"/>
<circle cx="138.90" cy="418.00" r="1.85" fill="#820a84" stroke="#220022" stroke-width="0.6"/>
<circle cx="141.70" cy="419.80" r="1.85" fill="#820a84" stroke="#220022" stroke-width="0.6"/>
<circle cx="137.50" cy="422.60" r="1.85" fill="#820a84" stroke="#220022" stroke-width="0.6"/>
<circle cx="137.50" cy="425.70" r="1.85" fill="#820a84" stroke="#220022" stroke-width="0.6"/>
<circle cx="139.60" cy="425.90" r="1.85" fill="#820a84" stroke="#220022" stroke-width="0.6"/>
<circle cx="141.70" cy="429.60" r="1.85" fill="#820a84" stroke="#220022" stroke-width="0.6"/>
<circle cx="138.20" cy="431.90" r="1.85" fill="#820a84" stroke="#220022" stroke-width="0.6"/>
<circle cx="139.60" cy="431.20" r="1.85" fill="#820a84" stroke="#220022" stroke-width="0.6"/>
<circle cx="138.50" cy="438.20" r="1.85" fill="#820a84" stroke="#220022" stroke-width="0.6"/>
<circle cx="138.50" cy="442.10" r="1.85" fill="#820a84" stroke="#220022" stroke-width="0.6"/>
<circle cx="133.00" cy="449.10" r="1.85" fill="#820a84" stroke="#220022" stroke-width="0.6"/>
<circle cx="135.20" cy="449.10" r="1.85" fill="#820a84" stroke="#220022" stroke-width="0.6"/>
<circle cx="137.40" cy="449.10" r="1.85" fill="#820a84" stroke="#220022" stroke-width="0.6"/>
<circle cx="139.60" cy="449.10" r="1.85" fill="#820a84" stroke="#220022" stroke-width="0.6"/>
<circle cx="141.80" cy="449.10" r="1.85" fill="#820a84" stroke="#220022" stroke-width="0.6"/>
<circle cx="143.80" cy="449.10" r="1.85" fill="#820a84" stroke="#220022" stroke-width="0.6"/>
<circle cx="153.50" cy="384.30" r="1.85" fill="#820a84" stroke="#220022" stroke-width="0.6"/>
<circle cx="157.30" cy="382.80" r="1.85" fill="#820a84" stroke="#220022" stroke-width="0.6"/>
<circle cx="160.90" cy="382.20" r="1.85" fill="#820a84" stroke="#220022" stroke-width="0.6"/>
<circle cx="164.40" cy="381.10" r="1.85" fill="#820a84" stroke="#220022" stroke-width="0.6"/>
<circle cx="164.40" cy="384.90" r="1.85" fill="#820a84" stroke="#220022" stroke-width="0.6"/>
<circle cx="157.30" cy="387.40" r="1.85" fill="#820a84" stroke="#220022" stroke-width="0.6"/>
<circle cx="153.50" cy="390.50" r="1.85" fill="#820a84" stroke="#220022" stroke-width="0.6"/>
<circle cx="160.90" cy="389.90" r="1.85" fill="#820a84" stroke="#220022" stroke-width="0.6"/>
<circle cx="164.40" cy="389.50" r="1.85" fill="#820a84" stroke="#220022" stroke-width="0.6"/>
<circle cx="157.30" cy="392.50" r="1.85" fill="#820a84" stroke="#220022" stroke-width="0.6"/>
<circle cx="160.90" cy="393.40" r="1.85" fill="#820a84" stroke="#220022" stroke-width="0.6"/>
<circle cx="164.40" cy="394.80" r="1.85" fill="#820a84" stroke="#220022" stroke-width="0.6"/>
<circle cx="153.50" cy="396.40" r="1.85" fill="#820a84" stroke="#220022" stroke-width="0.6"/>
<circle cx="157.30" cy="396.20" r="1.85" fill="#820a84" stroke="#220022" stroke-width="0.6"/>
<circle cx="160.90" cy="397.80" r="1.85" fill="#820a84" stroke="#220022" stroke-width="0.6"/>
<circle cx="153.50" cy="401.00" r="1.85" fill="#820a84" stroke="#220022" stroke-width="0.6"/>
<circle cx="157.30" cy="402.70" r="1.85" fill="#820a84" stroke="#220022" stroke-width="0.6"/>
<circle cx="160.90" cy="402.00" r="1.85" fill="#820a84" stroke="#220022" stroke-width="0.6"/>
<circle cx="164.40" cy="403.10" r="1.85" fill="#820a84" stroke="#220022" stroke-width="0.6"/>
<circle cx="159.10" cy="407.20" r="1.85" fill="#820a84" stroke="#220022" stroke-width="0.6"/>
<circle cx="180.40" cy="378.10" r="1.85" fill="#820a84" stroke="#220022" stroke-width="0.6"/>
<circle cx="178.30" cy="379.70" r="1.85" fill="#820a84" stroke="#220022" stroke-width="0.6"/>
<circle cx="174.40" cy="389.50" r="1.85" fill="#820a84" stroke="#220022" stroke-width="0.6"/>
<circle cx="176.50" cy="392.00" r="1.85" fill="#820a84" stroke="#220022" stroke-width="0.6"/>
<circle cx="184.80" cy="390.90" r="1.85" fill="#820a84" stroke="#220022" stroke-width="0.6"/>
<circle cx="182.10" cy="393.00" r="1.85" fill="#820a84" stroke="#220022" stroke-width="0.6"/>
<circle cx="177.90" cy="393.90" r="1.85" fill="#820a84" stroke="#220022" stroke-width="0.6"/>
<circle cx="182.80" cy="396.20" r="1.85" fill="#820a84" stroke="#220022" stroke-width="0.6"/>
<circle cx="176.50" cy="397.10" r="1.85" fill="#820a84" stroke="#220022" stroke-width="0.6"/>
<circle cx="175.10" cy="399.20" r="1.85" fill="#820a84" stroke="#220022" stroke-width="0.6"/>
<circle cx="181.40" cy="399.20" r="1.85" fill="#820a84" stroke="#220022" stroke-width="0.6"/>
<circle cx="184.80" cy="399.90" r="1.85" fill="#820a84" stroke="#220022" stroke-width="0.6"/>
<circle cx="177.90" cy="401.30" r="1.85" fill="#820a84" stroke="#220022" stroke-width="0.6"/>
<circle cx="183.40" cy="402.00" r="1.85" fill="#820a84" stroke="#220022" stroke-width="0.6"/>
<circle cx="174.40" cy="404.80" r="1.85" fill="#820a84" stroke="#220022" stroke-width="0.6"/>
<circle cx="178.60" cy="403.40" r="1.85" fill="#820a84" stroke="#220022" stroke-width="0.6"/>
<circle cx="181.40" cy="403.40" r="1.85" fill="#820a84" stroke="#220022" stroke-width="0.6"/>
<circle cx="184.80" cy="403.40" r="1.85" fill="#820a84" stroke="#220022" stroke-width="0.6"/>
<circle cx="182.80" cy="406.20" r="1.85" fill="#820a84" stroke="#220022" stroke-width="0.6"/>
<line x1="268.70" y1="365.60" x2="268.70" y2="449.90" stroke="#222" stroke-width="1.1"/>
<line x1="267.00" y1="449.40" x2="388.00" y2="449.40" stroke="#222" stroke-width="1.1"/>
<text x="261.40" y="452.00" font-size="7.8" text-anchor="end" fill="#111">0</text>
<line x1="266.30" y1="421.63" x2="268.70" y2="421.63" stroke="#222" stroke-width="0.9"/>
<text x="264.10" y="424.23" font-size="7.8" text-anchor="end" fill="#111">500</text>
<line x1="266.30" y1="393.87" x2="268.70" y2="393.87" stroke="#222" stroke-width="0.9"/>
<text x="264.10" y="396.47" font-size="7.8" text-anchor="end" fill="#111">1000</text>
<line x1="266.30" y1="366.10" x2="268.70" y2="366.10" stroke="#222" stroke-width="0.9"/>
<text x="264.10" y="368.70" font-size="7.8" text-anchor="end" fill="#111">1500</text>
<line x1="284.70" y1="449.40" x2="284.70" y2="452.20" stroke="#222" stroke-width="0.9"/>
<text x="0.00" y="0.00" font-size="7.8" text-anchor="end" fill="#111" transform="translate(287.50,458.40) rotate(-45)">5</text>
<text x="0.00" y="0.00" font-size="8.2" text-anchor="middle" fill="#111" transform="translate(286.60,363.30) rotate(-45)">9/20</text>
<line x1="308.80" y1="449.40" x2="308.80" y2="452.20" stroke="#222" stroke-width="0.9"/>
<text x="0.00" y="0.00" font-size="7.8" text-anchor="end" fill="#111" transform="translate(311.60,458.40) rotate(-45)">10</text>
<text x="0.00" y="0.00" font-size="8.2" text-anchor="middle" fill="#111" transform="translate(309.80,361.00) rotate(-45)">13/20</text>
<line x1="332.80" y1="449.40" x2="332.80" y2="452.20" stroke="#222" stroke-width="0.9"/>
<text x="0.00" y="0.00" font-size="7.8" text-anchor="end" fill="#111" transform="translate(335.60,458.40) rotate(-45)">15</text>
<text x="0.00" y="0.00" font-size="8.2" text-anchor="middle" fill="#111" transform="translate(334.10,361.00) rotate(-45)">10/20</text>
<line x1="357.00" y1="449.40" x2="357.00" y2="452.20" stroke="#222" stroke-width="0.9"/>
<text x="0.00" y="0.00" font-size="7.8" text-anchor="end" fill="#111" transform="translate(359.80,458.40) rotate(-45)">25</text>
<text x="0.00" y="0.00" font-size="8.2" text-anchor="middle" fill="#111" transform="translate(358.80,361.50) rotate(-45)">20/20</text>
<line x1="381.10" y1="449.40" x2="381.10" y2="452.20" stroke="#222" stroke-width="0.9"/>
<text x="0.00" y="0.00" font-size="7.8" text-anchor="end" fill="#111" transform="translate(383.90,458.40) rotate(-45)">30</text>
<text x="0.00" y="0.00" font-size="8.2" text-anchor="middle" fill="#111" transform="translate(382.80,361.50) rotate(-45)">20/20</text>
<text x="0.00" y="0.00" font-size="8.2" text-anchor="middle" fill="#111" transform="translate(242.30,408.00) rotate(-90)">RFU (x1000)</text>
<text x="267.80" y="463.60" font-size="8.1" text-anchor="end" fill="#111">copies/µL</text>
<line x1="277.10" y1="471.50" x2="384.30" y2="471.50" stroke="#222" stroke-width="1.0"/>
<text x="331.40" y="481.00" font-size="8.1" text-anchor="middle" fill="#111">E2 Gene</text>
<circle cx="284.90" cy="397.80" r="1.8" fill="#b0eaa9" stroke="#2c3c2c" stroke-width="0.6"/>
<circle cx="284.90" cy="403.70" r="1.8" fill="#b0eaa9" stroke="#2c3c2c" stroke-width="0.6"/>
<circle cx="284.90" cy="411.70" r="1.8" fill="#b0eaa9" stroke="#2c3c2c" stroke-width="0.6"/>
<circle cx="284.90" cy="419.70" r="1.8" fill="#b0eaa9" stroke="#2c3c2c" stroke-width="0.6"/>
<circle cx="284.90" cy="423.80" r="1.8" fill="#b0eaa9" stroke="#2c3c2c" stroke-width="0.6"/>
<circle cx="284.90" cy="427.90" r="1.8" fill="#b0eaa9" stroke="#2c3c2c" stroke-width="0.6"/>
<circle cx="285.90" cy="433.10" r="1.8" fill="#b0eaa9" stroke="#2c3c2c" stroke-width="0.6"/>
<circle cx="284.60" cy="434.30" r="1.8" fill="#b0eaa9" stroke="#2c3c2c" stroke-width="0.6"/>
<circle cx="283.40" cy="435.90" r="1.8" fill="#b0eaa9" stroke="#2c3c2c" stroke-width="0.6"/>
<circle cx="278.50" cy="448.40" r="1.8" fill="#b0eaa9" stroke="#2c3c2c" stroke-width="0.6"/>
<circle cx="281.00" cy="448.40" r="1.8" fill="#b0eaa9" stroke="#2c3c2c" stroke-width="0.6"/>
<circle cx="283.50" cy="448.40" r="1.8" fill="#b0eaa9" stroke="#2c3c2c" stroke-width="0.6"/>
<circle cx="286.00" cy="448.40" r="1.8" fill="#b0eaa9" stroke="#2c3c2c" stroke-width="0.6"/>
<circle cx="288.50" cy="448.40" r="1.8" fill="#b0eaa9" stroke="#2c3c2c" stroke-width="0.6"/>
<circle cx="291.00" cy="448.40" r="1.8" fill="#b0eaa9" stroke="#2c3c2c" stroke-width="0.6"/>
<circle cx="308.20" cy="392.60" r="1.8" fill="#b0eaa9" stroke="#2c3c2c" stroke-width="0.6"/>
<circle cx="310.20" cy="391.90" r="1.8" fill="#b0eaa9" stroke="#2c3c2c" stroke-width="0.6"/>
<circle cx="309.00" cy="398.40" r="1.8" fill="#b0eaa9" stroke="#2c3c2c" stroke-width="0.6"/>
<circle cx="309.20" cy="403.10" r="1.8" fill="#b0eaa9" stroke="#2c3c2c" stroke-width="0.6"/>
<circle cx="307.70" cy="408.00" r="1.8" fill="#b0eaa9" stroke="#2c3c2c" stroke-width="0.6"/>
<circle cx="310.20" cy="408.20" r="1.8" fill="#b0eaa9" stroke="#2c3c2c" stroke-width="0.6"/>
<circle cx="309.00" cy="414.10" r="1.8" fill="#b0eaa9" stroke="#2c3c2c" stroke-width="0.6"/>
<circle cx="311.00" cy="412.70" r="1.8" fill="#b0eaa9" stroke="#2c3c2c" stroke-width="0.6"/>
<circle cx="311.00" cy="419.70" r="1.8" fill="#b0eaa9" stroke="#2c3c2c" stroke-width="0.6"/>
<circle cx="309.00" cy="421.50" r="1.8" fill="#b0eaa9" stroke="#2c3c2c" stroke-width="0.6"/>
<circle cx="309.00" cy="426.00" r="1.8" fill="#b0eaa9" stroke="#2c3c2c" stroke-width="0.6"/>
<circle cx="307.10" cy="428.90" r="1.8" fill="#b0eaa9" stroke="#2c3c2c" stroke-width="0.6"/>
<circle cx="309.00" cy="429.70" r="1.8" fill="#b0eaa9" stroke="#2c3c2c" stroke-width="0.6"/>
<circle cx="302.00" cy="448.40" r="1.8" fill="#b0eaa9" stroke="#2c3c2c" stroke-width="0.6"/>
<circle cx="304.40" cy="448.40" r="1.8" fill="#b0eaa9" stroke="#2c3c2c" stroke-width="0.6"/>
<circle cx="306.80" cy="448.40" r="1.8" fill="#b0eaa9" stroke="#2c3c2c" stroke-width="0.6"/>
<circle cx="309.20" cy="448.40" r="1.8" fill="#b0eaa9" stroke="#2c3c2c" stroke-width="0.6"/>
<circle cx="311.60" cy="448.40" r="1.8" fill="#b0eaa9" stroke="#2c3c2c" stroke-width="0.6"/>
<circle cx="314.00" cy="448.40" r="1.8" fill="#b0eaa9" stroke="#2c3c2c" stroke-width="0.6"/>
<circle cx="316.20" cy="448.40" r="1.8" fill="#b0eaa9" stroke="#2c3c2c" stroke-width="0.6"/>
<circle cx="332.80" cy="386.50" r="1.8" fill="#b0eaa9" stroke="#2c3c2c" stroke-width="0.6"/>
<circle cx="334.10" cy="410.60" r="1.8" fill="#b0eaa9" stroke="#2c3c2c" stroke-width="0.6"/>
<circle cx="332.40" cy="413.60" r="1.8" fill="#b0eaa9" stroke="#2c3c2c" stroke-width="0.6"/>
<circle cx="331.10" cy="418.20" r="1.8" fill="#b0eaa9" stroke="#2c3c2c" stroke-width="0.6"/>
<circle cx="335.40" cy="417.50" r="1.8" fill="#b0eaa9" stroke="#2c3c2c" stroke-width="0.6"/>
<circle cx="333.70" cy="418.80" r="1.8" fill="#b0eaa9" stroke="#2c3c2c" stroke-width="0.6"/>
<circle cx="333.70" cy="421.80" r="1.8" fill="#b0eaa9" stroke="#2c3c2c" stroke-width="0.6"/>
<circle cx="332.00" cy="423.70" r="1.8" fill="#b0eaa9" stroke="#2c3c2c" stroke-width="0.6"/>
<circle cx="332.80" cy="443.30" r="1.8" fill="#b0eaa9" stroke="#2c3c2c" stroke-width="0.6"/>
<circle cx="326.50" cy="448.10" r="1.8" fill="#b0eaa9" stroke="#2c3c2c" stroke-width="0.6"/>
<circle cx="329.00" cy="448.10" r="1.8" fill="#b0eaa9" stroke="#2c3c2c" stroke-width="0.6"/>
<circle cx="331.50" cy="448.10" r="1.8" fill="#b0eaa9" stroke="#2c3c2c" stroke-width="0.6"/>
<circle cx="334.00" cy="448.10" r="1.8" fill="#b0eaa9" stroke="#2c3c2c" stroke-width="0.6"/>
<circle cx="336.50" cy="448.10" r="1.8" fill="#b0eaa9" stroke="#2c3c2c" stroke-width="0.6"/>
<circle cx="339.00" cy="448.10" r="1.8" fill="#b0eaa9" stroke="#2c3c2c" stroke-width="0.6"/>
<circle cx="357.00" cy="394.00" r="1.8" fill="#b0eaa9" stroke="#2c3c2c" stroke-width="0.6"/>
<circle cx="350.70" cy="402.70" r="1.8" fill="#b0eaa9" stroke="#2c3c2c" stroke-width="0.6"/>
<circle cx="355.10" cy="400.90" r="1.8" fill="#b0eaa9" stroke="#2c3c2c" stroke-width="0.6"/>
<circle cx="359.30" cy="403.50" r="1.8" fill="#b0eaa9" stroke="#2c3c2c" stroke-width="0.6"/>
<circle cx="350.70" cy="407.40" r="1.8" fill="#b0eaa9" stroke="#2c3c2c" stroke-width="0.6"/>
<circle cx="355.10" cy="406.00" r="1.8" fill="#b0eaa9" stroke="#2c3c2c" stroke-width="0.6"/>
<circle cx="359.30" cy="407.70" r="1.8" fill="#b0eaa9" stroke="#2c3c2c" stroke-width="0.6"/>
<circle cx="363.80" cy="406.70" r="1.8" fill="#b0eaa9" stroke="#2c3c2c" stroke-width="0.6"/>
<circle cx="359.30" cy="411.90" r="1.8" fill="#b0eaa9" stroke="#2c3c2c" stroke-width="0.6"/>
<circle cx="350.70" cy="413.90" r="1.8" fill="#b0eaa9" stroke="#2c3c2c" stroke-width="0.6"/>
<circle cx="355.10" cy="415.80" r="1.8" fill="#b0eaa9" stroke="#2c3c2c" stroke-width="0.6"/>
<circle cx="359.30" cy="416.20" r="1.8" fill="#b0eaa9" stroke="#2c3c2c" stroke-width="0.6"/>
<circle cx="350.70" cy="418.20" r="1.8" fill="#b0eaa9" stroke="#2c3c2c" stroke-width="0.6"/>
<circle cx="355.10" cy="419.10" r="1.8" fill="#b0eaa9" stroke="#2c3c2c" stroke-width="0.6"/>
<circle cx="359.30" cy="419.50" r="1.8" fill="#b0eaa9" stroke="#2c3c2c" stroke-width="0.6"/>
<circle cx="352.70" cy="423.40" r="1.8" fill="#b0eaa9" stroke="#2c3c2c" stroke-width="0.6"/>
<circle cx="357.30" cy="423.10" r="1.8" fill="#b0eaa9" stroke="#2c3c2c" stroke-width="0.6"/>
<circle cx="361.60" cy="425.00" r="1.8" fill="#b0eaa9" stroke="#2c3c2c" stroke-width="0.6"/>
<circle cx="357.00" cy="434.50" r="1.8" fill="#b0eaa9" stroke="#2c3c2c" stroke-width="0.6"/>
<circle cx="357.00" cy="438.10" r="1.8" fill="#b0eaa9" stroke="#2c3c2c" stroke-width="0.6"/>
<circle cx="381.10" cy="385.70" r="1.8" fill="#b0eaa9" stroke="#2c3c2c" stroke-width="0.6"/>
<circle cx="381.10" cy="403.50" r="1.8" fill="#b0eaa9" stroke="#2c3c2c" stroke-width="0.6"/>
<circle cx="381.10" cy="408.40" r="1.8" fill="#b0eaa9" stroke="#2c3c2c" stroke-width="0.6"/>
<circle cx="378.00" cy="416.00" r="1.8" fill="#b0eaa9" stroke="#2c3c2c" stroke-width="0.6"/>
<circle cx="384.50" cy="417.30" r="1.8" fill="#b0eaa9" stroke="#2c3c2c" stroke-width="0.6"/>
<circle cx="381.10" cy="418.40" r="1.8" fill="#b0eaa9" stroke="#2c3c2c" stroke-width="0.6"/>
<circle cx="375.00" cy="421.80" r="1.8" fill="#b0eaa9" stroke="#2c3c2c" stroke-width="0.6"/>
<circle cx="381.10" cy="422.80" r="1.8" fill="#b0eaa9" stroke="#2c3c2c" stroke-width="0.6"/>
<circle cx="384.50" cy="423.40" r="1.8" fill="#b0eaa9" stroke="#2c3c2c" stroke-width="0.6"/>
<circle cx="375.00" cy="425.80" r="1.8" fill="#b0eaa9" stroke="#2c3c2c" stroke-width="0.6"/>
<circle cx="378.00" cy="425.00" r="1.8" fill="#b0eaa9" stroke="#2c3c2c" stroke-width="0.6"/>
<circle cx="381.10" cy="426.00" r="1.8" fill="#b0eaa9" stroke="#2c3c2c" stroke-width="0.6"/>
<circle cx="384.50" cy="427.10" r="1.8" fill="#b0eaa9" stroke="#2c3c2c" stroke-width="0.6"/>
<circle cx="388.00" cy="425.80" r="1.8" fill="#b0eaa9" stroke="#2c3c2c" stroke-width="0.6"/>
<circle cx="378.00" cy="429.90" r="1.8" fill="#b0eaa9" stroke="#2c3c2c" stroke-width="0.6"/>
<circle cx="381.10" cy="429.70" r="1.8" fill="#b0eaa9" stroke="#2c3c2c" stroke-width="0.6"/>
<circle cx="384.50" cy="431.50" r="1.8" fill="#b0eaa9" stroke="#2c3c2c" stroke-width="0.6"/>
<circle cx="381.10" cy="432.80" r="1.8" fill="#b0eaa9" stroke="#2c3c2c" stroke-width="0.6"/>
<circle cx="378.00" cy="436.50" r="1.8" fill="#b0eaa9" stroke="#2c3c2c" stroke-width="0.6"/>
<circle cx="384.50" cy="435.40" r="1.8" fill="#b0eaa9" stroke="#2c3c2c" stroke-width="0.6"/>
<rect x="535.30" y="31.40" width="68.10" height="470.08" fill="#edfcf4" stroke="none" stroke-width="1" rx="0"/>
<rect x="535.30" y="486.79" width="33.70" height="14.69" fill="#fc7b7b" stroke="none" stroke-width="1" rx="0"/>
<rect x="569.00" y="486.79" width="34.40" height="14.69" fill="#fcaaa0" stroke="none" stroke-width="1" rx="0"/>
<line x1="535.30" y1="46.09" x2="603.40" y2="46.09" stroke="#e5f5ec" stroke-width="0.5"/>
<line x1="535.30" y1="60.78" x2="603.40" y2="60.78" stroke="#e5f5ec" stroke-width="0.5"/>
<line x1="535.30" y1="75.47" x2="603.40" y2="75.47" stroke="#e5f5ec" stroke-width="0.5"/>
<line x1="535.30" y1="90.16" x2="603.40" y2="90.16" stroke="#e5f5ec" stroke-width="0.5"/>
<line x1="535.30" y1="104.85" x2="603.40" y2="104.85" stroke="#e5f5ec" stroke-width="0.5"/>
<line x1="535.30" y1="119.54" x2="603.40" y2="119.54" stroke="#e5f5ec" stroke-width="0.5"/>
<line x1="535.30" y1="134.23" x2="603.40" y2="134.23" stroke="#e5f5ec" stroke-width="0.5"/>
<line x1="535.30" y1="148.92" x2="603.40" y2="148.92" stroke="#e5f5ec" stroke-width="0.5"/>
<line x1="535.30" y1="163.61" x2="603.40" y2="163.61" stroke="#e5f5ec" stroke-width="0.5"/>
<line x1="535.30" y1="178.30" x2="603.40" y2="178.30" stroke="#e5f5ec" stroke-width="0.5"/>
<line x1="535.30" y1="192.99" x2="603.40" y2="192.99" stroke="#e5f5ec" stroke-width="0.5"/>
<line x1="535.30" y1="207.68" x2="603.40" y2="207.68" stroke="#e5f5ec" stroke-width="0.5"/>
<line x1="535.30" y1="222.37" x2="603.40" y2="222.37" stroke="#e5f5ec" stroke-width="0.5"/>
<line x1="535.30" y1="237.06" x2="603.40" y2="237.06" stroke="#e5f5ec" stroke-width="0.5"/>
<line x1="535.30" y1="251.75" x2="603.40" y2="251.75" stroke="#e5f5ec" stroke-width="0.5"/>
<line x1="535.30" y1="266.44" x2="603.40" y2="266.44" stroke="#e5f5ec" stroke-width="0.5"/>
<line x1="535.30" y1="281.13" x2="603.40" y2="281.13" stroke="#e5f5ec" stroke-width="0.5"/>
<line x1="535.30" y1="295.82" x2="603.40" y2="295.82" stroke="#e5f5ec" stroke-width="0.5"/>
<line x1="535.30" y1="310.51" x2="603.40" y2="310.51" stroke="#e5f5ec" stroke-width="0.5"/>
<line x1="535.30" y1="325.20" x2="603.40" y2="325.20" stroke="#e5f5ec" stroke-width="0.5"/>
<line x1="535.30" y1="339.89" x2="603.40" y2="339.89" stroke="#e5f5ec" stroke-width="0.5"/>
<line x1="535.30" y1="354.58" x2="603.40" y2="354.58" stroke="#e5f5ec" stroke-width="0.5"/>
<line x1="535.30" y1="369.27" x2="603.40" y2="369.27" stroke="#e5f5ec" stroke-width="0.5"/>
<line x1="535.30" y1="383.96" x2="603.40" y2="383.96" stroke="#e5f5ec" stroke-width="0.5"/>
<line x1="535.30" y1="398.65" x2="603.40" y2="398.65" stroke="#e5f5ec" stroke-width="0.5"/>
<line x1="535.30" y1="413.34" x2="603.40" y2="413.34" stroke="#e5f5ec" stroke-width="0.5"/>
<line x1="535.30" y1="428.03" x2="603.40" y2="428.03" stroke="#e5f5ec" stroke-width="0.5"/>
<line x1="535.30" y1="442.72" x2="603.40" y2="442.72" stroke="#e5f5ec" stroke-width="0.5"/>
<line x1="535.30" y1="457.41" x2="603.40" y2="457.41" stroke="#e5f5ec" stroke-width="0.5"/>
<line x1="535.30" y1="472.10" x2="603.40" y2="472.10" stroke="#e5f5ec" stroke-width="0.5"/>
<line x1="569.00" y1="31.40" x2="569.00" y2="486.79" stroke="#e5f5ec" stroke-width="0.5"/>
<rect x="535.30" y="31.40" width="68.10" height="470.08" fill="none" stroke="#9a9a9a" stroke-width="1.0" rx="0.8"/>
<line x1="532.10" y1="38.74" x2="535.30" y2="38.74" stroke="#222" stroke-width="0.9"/>
<text transform="translate(531.2,41.64) scale(0.77,1)" font-size="9.5" font-style="italic" text-anchor="end" fill="#1a1a1a">Coronavirus 229E</text>
<text transform="translate(622.1,40.84) scale(0.8,1)" font-size="9.1" font-style="italic" text-anchor="middle" fill="#1a1a1a">25 - 27</text>
<line x1="532.10" y1="53.44" x2="535.30" y2="53.44" stroke="#222" stroke-width="0.9"/>
<text transform="translate(531.2,56.34) scale(0.77,1)" font-size="9.5" font-style="italic" text-anchor="end" fill="#1a1a1a">Coronavirus OC43</text>
<text transform="translate(622.1,55.54) scale(0.8,1)" font-size="9.1" font-style="italic" text-anchor="middle" fill="#1a1a1a">13 - 15</text>
<line x1="532.10" y1="68.12" x2="535.30" y2="68.12" stroke="#222" stroke-width="0.9"/>
<text transform="translate(531.2,71.03) scale(0.77,1)" font-size="9.5" font-style="italic" text-anchor="end" fill="#1a1a1a">Coronavirus SARS</text>
<text transform="translate(622.1,70.22) scale(0.8,1)" font-size="9.1" font-style="italic" text-anchor="middle" fill="#1a1a1a">24 - 26</text>
<line x1="532.10" y1="82.81" x2="535.30" y2="82.81" stroke="#222" stroke-width="0.9"/>
<text transform="translate(531.2,85.72) scale(0.77,1)" font-size="9.5" font-style="italic" text-anchor="end" fill="#1a1a1a">Adenovirus Type 3 N/A</text>
<text transform="translate(622.1,84.91) scale(0.8,1)" font-size="9.1" font-style="italic" text-anchor="middle" fill="#1a1a1a">25 - 27</text>
<line x1="532.10" y1="97.50" x2="535.30" y2="97.50" stroke="#222" stroke-width="0.9"/>
<text transform="translate(531.2,100.41) scale(0.77,1)" font-size="9.5" font-style="italic" text-anchor="end" fill="#1a1a1a">Adenovirus Type 31 N/A</text>
<text transform="translate(622.1,99.60) scale(0.8,1)" font-size="9.1" font-style="italic" text-anchor="middle" fill="#1a1a1a">27 - 30</text>
<line x1="532.10" y1="112.19" x2="535.30" y2="112.19" stroke="#222" stroke-width="0.9"/>
<text transform="translate(531.2,115.09) scale(0.77,1)" font-size="9.5" font-style="italic" text-anchor="end" fill="#1a1a1a">Coronavirus NL63 N/A</text>
<text transform="translate(622.1,114.29) scale(0.8,1)" font-size="9.1" font-style="italic" text-anchor="middle" fill="#1a1a1a">27 - 30</text>
<line x1="532.10" y1="126.88" x2="535.30" y2="126.88" stroke="#222" stroke-width="0.9"/>
<text transform="translate(531.2,129.78) scale(0.77,1)" font-size="9.5" font-style="italic" text-anchor="end" fill="#1a1a1a">Influenza A H3 A/Brisbane/10/07</text>
<text transform="translate(622.1,128.98) scale(0.8,1)" font-size="9.1" font-style="italic" text-anchor="middle" fill="#1a1a1a">22 - 25</text>
<line x1="532.10" y1="141.57" x2="535.30" y2="141.57" stroke="#222" stroke-width="0.9"/>
<text transform="translate(531.2,144.47) scale(0.77,1)" font-size="9.5" font-style="italic" text-anchor="end" fill="#1a1a1a">Influenza B B/Florida/02/06</text>
<text transform="translate(622.1,143.67) scale(0.8,1)" font-size="9.1" font-style="italic" text-anchor="middle" fill="#1a1a1a">19 - 22</text>
<line x1="532.10" y1="156.26" x2="535.30" y2="156.26" stroke="#222" stroke-width="0.9"/>
<text transform="translate(531.2,159.16) scale(0.77,1)" font-size="9.5" font-style="italic" text-anchor="end" fill="#1a1a1a">Parainfluenza virus Type 1 N/A</text>
<text transform="translate(622.1,159.16) scale(0.8,1)" font-size="9.1" font-style="italic" text-anchor="middle" fill="#1a1a1a">22 - 24</text>
<line x1="532.10" y1="170.96" x2="535.30" y2="170.96" stroke="#222" stroke-width="0.9"/>
<text transform="translate(531.2,173.86) scale(0.77,1)" font-size="9.5" font-style="italic" text-anchor="end" fill="#1a1a1a">Rhinovirus 1A N/A</text>
<text transform="translate(622.1,173.56) scale(0.8,1)" font-size="9.1" font-style="italic" text-anchor="middle" fill="#1a1a1a">21 - 23</text>
<line x1="532.10" y1="185.65" x2="535.30" y2="185.65" stroke="#222" stroke-width="0.9"/>
<text transform="translate(531.2,188.55) scale(0.77,1)" font-size="9.5" font-style="italic" text-anchor="end" fill="#1a1a1a">Respiratory Syncytial Virus A</text>
<text transform="translate(622.1,189.05) scale(0.8,1)" font-size="9.1" font-style="italic" text-anchor="middle" fill="#1a1a1a">23 - 25</text>
<line x1="532.10" y1="200.34" x2="535.30" y2="200.34" stroke="#222" stroke-width="0.9"/>
<text transform="translate(531.2,203.24) scale(0.77,1)" font-size="9.5" font-style="italic" text-anchor="end" fill="#1a1a1a">Respiratory Syncytial Virus B</text>
<text transform="translate(622.1,203.13) scale(0.8,1)" font-size="9.1" font-style="italic" text-anchor="middle" fill="#1a1a1a">25 - 27</text>
<line x1="532.10" y1="215.03" x2="535.30" y2="215.03" stroke="#222" stroke-width="0.9"/>
<text transform="translate(531.2,217.93) scale(0.77,1)" font-size="9.5" font-style="italic" text-anchor="end" fill="#1a1a1a">Parainfluenza virus Type 2</text>
<text transform="translate(622.1,217.62) scale(0.8,1)" font-size="9.1" font-style="italic" text-anchor="middle" fill="#1a1a1a">24 - 26</text>
<line x1="532.10" y1="229.72" x2="535.30" y2="229.72" stroke="#222" stroke-width="0.9"/>
<text transform="translate(531.2,232.62) scale(0.77,1)" font-size="9.5" font-style="italic" text-anchor="end" fill="#1a1a1a">Parainfluenza virus Type 3</text>
<text transform="translate(622.1,231.31) scale(0.8,1)" font-size="9.1" font-style="italic" text-anchor="middle" fill="#1a1a1a">26 - 28</text>
<line x1="532.10" y1="244.41" x2="535.30" y2="244.41" stroke="#222" stroke-width="0.9"/>
<text transform="translate(531.2,247.31) scale(0.77,1)" font-size="9.5" font-style="italic" text-anchor="end" fill="#1a1a1a">Enterovirus</text>
<text transform="translate(622.1,245.70) scale(0.8,1)" font-size="9.1" font-style="italic" text-anchor="middle" fill="#1a1a1a">NA</text>
<line x1="532.10" y1="259.09" x2="535.30" y2="259.09" stroke="#222" stroke-width="0.9"/>
<text transform="translate(531.2,261.99) scale(0.77,1)" font-size="9.5" font-style="italic" text-anchor="end" fill="#1a1a1a">Human Metapneumovirus*</text>
<text transform="translate(622.1,260.89) scale(0.8,1)" font-size="9.1" font-style="italic" text-anchor="middle" fill="#1a1a1a">NA</text>
<line x1="532.10" y1="273.78" x2="535.30" y2="273.78" stroke="#222" stroke-width="0.9"/>
<text transform="translate(531.2,276.68) scale(0.77,1)" font-size="9.5" font-style="italic" text-anchor="end" fill="#1a1a1a">Influenza A H1N1 (2009)</text>
<text transform="translate(622.1,275.38) scale(0.8,1)" font-size="9.1" font-style="italic" text-anchor="middle" fill="#1a1a1a">25 - 28</text>
<line x1="532.10" y1="288.47" x2="535.30" y2="288.47" stroke="#222" stroke-width="0.9"/>
<text transform="translate(531.2,291.37) scale(0.77,1)" font-size="9.5" font-style="italic" text-anchor="end" fill="#1a1a1a">L. pneumophila Philadelphia</text>
<text transform="translate(622.1,291.88) scale(0.8,1)" font-size="9.1" font-style="italic" text-anchor="middle" fill="#1a1a1a">19 - 22</text>
<line x1="532.10" y1="303.16" x2="535.30" y2="303.16" stroke="#222" stroke-width="0.9"/>
<text transform="translate(531.2,306.06) scale(0.77,1)" font-size="9.5" font-style="italic" text-anchor="end" fill="#1a1a1a">M. pneumoniae M129</text>
<text transform="translate(622.1,306.37) scale(0.8,1)" font-size="9.1" font-style="italic" text-anchor="middle" fill="#1a1a1a">19 - 22</text>
<line x1="532.10" y1="317.85" x2="535.30" y2="317.85" stroke="#222" stroke-width="0.9"/>
<text transform="translate(531.2,320.75) scale(0.77,1)" font-size="9.5" font-style="italic" text-anchor="end" fill="#1a1a1a">Metapneumovirus 8** Peru6-2003</text>
<text transform="translate(622.1,318.85) scale(0.8,1)" font-size="9.1" font-style="italic" text-anchor="middle" fill="#1a1a1a">22 - 25</text>
<line x1="532.10" y1="332.54" x2="535.30" y2="332.54" stroke="#222" stroke-width="0.9"/>
<text transform="translate(531.2,335.44) scale(0.77,1)" font-size="9.5" font-style="italic" text-anchor="end" fill="#1a1a1a">RSV A2 N/A</text>
<text transform="translate(622.1,334.34) scale(0.8,1)" font-size="9.1" font-style="italic" text-anchor="middle" fill="#1a1a1a">29 - 32</text>
<line x1="532.10" y1="347.23" x2="535.30" y2="347.23" stroke="#222" stroke-width="0.9"/>
<text transform="translate(531.2,350.13) scale(0.77,1)" font-size="9.5" font-style="italic" text-anchor="end" fill="#1a1a1a">H. influenzae MinnA</text>
<text transform="translate(622.1,349.63) scale(0.8,1)" font-size="9.1" font-style="italic" text-anchor="middle" fill="#1a1a1a">15 - 17</text>
<line x1="532.10" y1="361.92" x2="535.30" y2="361.92" stroke="#222" stroke-width="0.9"/>
<text transform="translate(531.2,364.82) scale(0.77,1)" font-size="9.5" font-style="italic" text-anchor="end" fill="#1a1a1a">P. aeruginosa Z139, VIM-1</text>
<text transform="translate(622.1,364.32) scale(0.8,1)" font-size="9.1" font-style="italic" text-anchor="middle" fill="#1a1a1a">18 - 21</text>
<line x1="532.10" y1="376.61" x2="535.30" y2="376.61" stroke="#222" stroke-width="0.9"/>
<text transform="translate(531.2,379.51) scale(0.77,1)" font-size="9.5" font-style="italic" text-anchor="end" fill="#1a1a1a">S. pneumoniae Z022</text>
<text transform="translate(622.1,377.71) scale(0.8,1)" font-size="9.1" font-style="italic" text-anchor="middle" fill="#1a1a1a">26 - 28</text>
<line x1="532.10" y1="391.30" x2="535.30" y2="391.30" stroke="#222" stroke-width="0.9"/>
<text transform="translate(531.2,394.20) scale(0.77,1)" font-size="9.5" font-style="italic" text-anchor="end" fill="#1a1a1a">S. pyogenes Z018</text>
<text transform="translate(622.1,392.60) scale(0.8,1)" font-size="9.1" font-style="italic" text-anchor="middle" fill="#1a1a1a">25 - 28</text>
<line x1="532.10" y1="405.99" x2="535.30" y2="405.99" stroke="#222" stroke-width="0.9"/>
<text transform="translate(531.2,408.89) scale(0.77,1)" font-size="9.5" font-style="italic" text-anchor="end" fill="#1a1a1a">MERS-SARS irradiated lysate</text>
<text transform="translate(622.1,407.59) scale(0.8,1)" font-size="9.1" font-style="italic" text-anchor="middle" fill="#1a1a1a">NA</text>
<line x1="532.10" y1="420.68" x2="535.30" y2="420.68" stroke="#222" stroke-width="0.9"/>
<text transform="translate(531.2,423.58) scale(0.77,1)" font-size="9.5" font-style="italic" text-anchor="end" fill="#1a1a1a">SARS-CoV-2 Negative Nasal Swab</text>
<text transform="translate(622.1,422.78) scale(0.8,1)" font-size="9.1" font-style="italic" text-anchor="middle" fill="#1a1a1a">NA</text>
<line x1="532.10" y1="435.37" x2="535.30" y2="435.37" stroke="#222" stroke-width="0.9"/>
<text transform="translate(531.2,438.27) scale(0.77,1)" font-size="9.5" font-style="italic" text-anchor="end" fill="#1a1a1a">K. pneumoniae KPC2</text>
<text transform="translate(622.1,437.40) scale(0.8,1)" font-size="9.1" font-style="italic" text-anchor="middle" fill="#1a1a1a">19 - 21.5</text>
<line x1="532.10" y1="450.06" x2="535.30" y2="450.06" stroke="#222" stroke-width="0.9"/>
<text transform="translate(531.2,452.96) scale(0.77,1)" font-size="9.5" font-style="italic" text-anchor="end" fill="#1a1a1a">K. pneumoniae Z138; OXA-48</text>
<text transform="translate(622.1,449.50) scale(0.8,1)" font-size="9.1" font-style="italic" text-anchor="middle" fill="#1a1a1a">16 - 19</text>
<line x1="532.10" y1="464.75" x2="535.30" y2="464.75" stroke="#222" stroke-width="0.9"/>
<text transform="translate(531.2,467.65) scale(0.77,1)" font-size="9.5" font-style="italic" text-anchor="end" fill="#1a1a1a">K. pneumoniae Z460; NDM-1</text>
<text transform="translate(622.1,465.70) scale(0.8,1)" font-size="9.1" font-style="italic" text-anchor="middle" fill="#1a1a1a">15.5 - 17.5</text>
<line x1="532.10" y1="479.44" x2="535.30" y2="479.44" stroke="#222" stroke-width="0.9"/>
<text transform="translate(531.2,482.34) scale(0.77,1)" font-size="9.5" font-style="italic" text-anchor="end" fill="#1a1a1a">S. aureus MRSA, COL</text>
<text transform="translate(622.1,481.70) scale(0.8,1)" font-size="9.1" font-style="italic" text-anchor="middle" fill="#1a1a1a">18.5 - 21</text>
<line x1="532.10" y1="494.13" x2="535.30" y2="494.13" stroke="#222" stroke-width="0.9"/>
<text transform="translate(531.2,497.03) scale(0.77,1)" font-size="9.5" font-style="italic" text-anchor="end" fill="#1a1a1a">Heat-inactivated SARS-CoV-2</text>
<text transform="translate(622.1,493.70) scale(0.8,1)" font-size="9.1" font-style="italic" text-anchor="middle" fill="#1a1a1a">NA</text>
<text transform="translate(552.0,512.6) scale(0.85,1)" font-size="8.6" text-anchor="middle" fill="#1a1a1a">N Gene</text>
<text transform="translate(585.0,512.6) scale(0.85,1)" font-size="8.6" text-anchor="middle" fill="#1a1a1a">E Gene</text>
<text transform="translate(622.0,24.7) scale(0.88,1)" font-size="8.2" text-anchor="middle" fill="#1a1a1a">Ct Range</text>
<defs><linearGradient id="cb" x1="0" y1="0" x2="0" y2="1"><stop offset="0" stop-color="#f07a7a"/><stop offset="0.10" stop-color="#f38a8a"/><stop offset="0.245" stop-color="#fab4a6"/><stop offset="0.31" stop-color="#fcc4b2"/><stop offset="0.42" stop-color="#fde2c6"/><stop offset="0.50" stop-color="#fdf3d8"/><stop offset="0.56" stop-color="#fcf8e0"/><stop offset="0.76" stop-color="#f3f7e6"/><stop offset="1" stop-color="#ebf6f1"/></linearGradient></defs>
<rect x="642.40" y="31.30" width="11.90" height="469.50" fill="url(#cb)" stroke="#6a6a6a" stroke-width="1.0" rx="0.6"/>
<line x1="642.90" y1="31.30" x2="653.80" y2="31.30" stroke="#3c3c3c" stroke-width="1.0"/>
<line x1="642.90" y1="500.80" x2="653.80" y2="500.80" stroke="#4a4a4a" stroke-width="1.0"/>
<line x1="642.40" y1="68.60" x2="644.80" y2="68.60" stroke="#333" stroke-width="1.0"/>
<line x1="651.90" y1="68.60" x2="654.30" y2="68.60" stroke="#333" stroke-width="1.0"/>
<text x="658.30" y="72.20" font-size="10.0" text-anchor="start" fill="#111">80</text>
<line x1="642.40" y1="177.90" x2="644.80" y2="177.90" stroke="#333" stroke-width="1.0"/>
<line x1="651.90" y1="177.90" x2="654.30" y2="177.90" stroke="#333" stroke-width="1.0"/>
<text x="658.30" y="181.50" font-size="10.0" text-anchor="start" fill="#111">60</text>
<line x1="642.40" y1="287.30" x2="644.80" y2="287.30" stroke="#333" stroke-width="1.0"/>
<line x1="651.90" y1="287.30" x2="654.30" y2="287.30" stroke="#333" stroke-width="1.0"/>
<text x="658.30" y="290.90" font-size="10.0" text-anchor="start" fill="#111">40</text>
<line x1="642.40" y1="396.60" x2="644.80" y2="396.60" stroke="#333" stroke-width="1.0"/>
<line x1="651.90" y1="396.60" x2="654.30" y2="396.60" stroke="#333" stroke-width="1.0"/>
<text x="658.30" y="400.20" font-size="10.0" text-anchor="start" fill="#111">20</text>
<text x="0.00" y="0.00" font-size="9.6" text-anchor="middle" fill="#111" transform="translate(678.2,269.6) rotate(90)">Fold (normalized to NTC)</text>
<rect x="41.40" y="549.30" width="258.40" height="43.80" fill="#fff" stroke="#8c8c8c" stroke-width="1.1" rx="1.2"/>
<rect x="46.20" y="554.00" width="10.40" height="10.40" fill="#c8f4c0" stroke="none" stroke-width="1" rx="2.8" filter="url(#bl)"/>
<rect x="47.60" y="555.40" width="7.60" height="7.60" fill="#5ad855" stroke="none" stroke-width="1" rx="1.4" filter="url(#bl)"/>
<path d="M48.30,556.10 L54.50,562.30 M54.50,556.10 L48.30,562.30" stroke="#2bbf2a" stroke-width="2.3" filter="url(#bl)"/>
<rect x="58.82" y="554.00" width="10.40" height="10.40" fill="#c8f4c0" stroke="none" stroke-width="1" rx="2.8" filter="url(#bl)"/>
<rect x="60.22" y="555.40" width="7.60" height="7.60" fill="#55d650" stroke="none" stroke-width="1" rx="1.4" filter="url(#bl)"/>
<path d="M60.92,556.10 L67.12,562.30 M67.12,556.10 L60.92,562.30" stroke="#29be27" stroke-width="2.3" filter="url(#bl)"/>
<rect x="71.44" y="554.00" width="10.40" height="10.40" fill="#c8f4c0" stroke="none" stroke-width="1" rx="2.8" filter="url(#bl)"/>
<rect x="72.84" y="555.40" width="7.60" height="7.60" fill="#55d650" stroke="none" stroke-width="1" rx="1.4" filter="url(#bl)"/>
<path d="M73.54,556.10 L79.74,562.30 M79.74,556.10 L73.54,562.30" stroke="#29be27" stroke-width="2.3" filter="url(#bl)"/>
<rect x="84.06" y="554.00" width="10.40" height="10.40" fill="#c8f4c0" stroke="none" stroke-width="1" rx="2.8" filter="url(#bl)"/>
<rect x="85.46" y="555.40" width="7.60" height="7.60" fill="#5ad855" stroke="none" stroke-width="1" rx="1.4" filter="url(#bl)"/>
<path d="M86.16,556.10 L92.36,562.30 M92.36,556.10 L86.16,562.30" stroke="#2bbf2a" stroke-width="2.3" filter="url(#bl)"/>
<rect x="96.68" y="554.00" width="10.40" height="10.40" fill="#c8f4c0" stroke="none" stroke-width="1" rx="2.8" filter="url(#bl)"/>
<rect x="98.08" y="555.40" width="7.60" height="7.60" fill="#50d44c" stroke="none" stroke-width="1" rx="1.4" filter="url(#bl)"/>
<path d="M98.78,556.10 L104.98,562.30 M104.98,556.10 L98.78,562.30" stroke="#26bc25" stroke-width="2.3" filter="url(#bl)"/>
<rect x="109.30" y="554.00" width="10.40" height="10.40" fill="#c8f4c0" stroke="none" stroke-width="1" rx="2.8" filter="url(#bl)"/>
<rect x="110.70" y="555.40" width="7.60" height="7.60" fill="#50d44c" stroke="none" stroke-width="1" rx="1.4" filter="url(#bl)"/>
<path d="M111.40,556.10 L117.60,562.30 M117.60,556.10 L111.40,562.30" stroke="#26bc25" stroke-width="2.3" filter="url(#bl)"/>
<rect x="121.92" y="554.00" width="10.40" height="10.40" fill="#c8f4c0" stroke="none" stroke-width="1" rx="2.8" filter="url(#bl)"/>
<rect x="123.32" y="555.40" width="7.60" height="7.60" fill="#3dcc3a" stroke="none" stroke-width="1" rx="1.4" filter="url(#bl)"/>
<path d="M124.02,556.10 L130.22,562.30 M130.22,556.10 L124.02,562.30" stroke="#1bb71a" stroke-width="2.3" filter="url(#bl)"/>
<rect x="134.54" y="554.00" width="10.40" height="10.40" fill="#c8f4c0" stroke="none" stroke-width="1" rx="2.8" filter="url(#bl)"/>
<rect x="135.94" y="555.40" width="7.60" height="7.60" fill="#2ec62c" stroke="none" stroke-width="1" rx="1.4" filter="url(#bl)"/>
<path d="M136.64,556.10 L142.84,562.30 M142.84,556.10 L136.64,562.30" stroke="#13b313" stroke-width="2.3" filter="url(#bl)"/>
<rect x="147.16" y="554.00" width="10.40" height="10.40" fill="#c8f4c0" stroke="none" stroke-width="1" rx="2.8" filter="url(#bl)"/>
<rect x="148.56" y="555.40" width="7.60" height="7.60" fill="#3dcc3a" stroke="none" stroke-width="1" rx="1.4" filter="url(#bl)"/>
<path d="M149.26,556.10 L155.46,562.30 M155.46,556.10 L149.26,562.30" stroke="#1bb71a" stroke-width="2.3" filter="url(#bl)"/>
<rect x="159.78" y="554.00" width="10.40" height="10.40" fill="#c8f4c0" stroke="none" stroke-width="1" rx="2.8" filter="url(#bl)"/>
<rect x="161.18" y="555.40" width="7.60" height="7.60" fill="#42ce3e" stroke="none" stroke-width="1" rx="1.4" filter="url(#bl)"/>
<path d="M161.88,556.10 L168.08,562.30 M168.08,556.10 L161.88,562.30" stroke="#1eb81d" stroke-width="2.3" filter="url(#bl)"/>
<rect x="172.40" y="554.00" width="10.40" height="10.40" fill="#c8f4c0" stroke="none" stroke-width="1" rx="2.8" filter="url(#bl)"/>
<rect x="173.80" y="555.40" width="7.60" height="7.60" fill="#29c428" stroke="none" stroke-width="1" rx="1.4" filter="url(#bl)"/>
<path d="M174.50,556.10 L180.70,562.30 M180.70,556.10 L174.50,562.30" stroke="#10b110" stroke-width="2.3" filter="url(#bl)"/>
<rect x="185.02" y="554.00" width="10.40" height="10.40" fill="#c8f4c0" stroke="none" stroke-width="1" rx="2.8" filter="url(#bl)"/>
<rect x="186.42" y="555.40" width="7.60" height="7.60" fill="#3dcc3a" stroke="none" stroke-width="1" rx="1.4" filter="url(#bl)"/>
<path d="M187.12,556.10 L193.32,562.30 M193.32,556.10 L187.12,562.30" stroke="#1bb71a" stroke-width="2.3" filter="url(#bl)"/>
<rect x="197.64" y="554.00" width="10.40" height="10.40" fill="#c8f4c0" stroke="none" stroke-width="1" rx="2.8" filter="url(#bl)"/>
<rect x="199.04" y="555.40" width="7.60" height="7.60" fill="#2ec62c" stroke="none" stroke-width="1" rx="1.4" filter="url(#bl)"/>
<path d="M199.74,556.10 L205.94,562.30 M205.94,556.10 L199.74,562.30" stroke="#13b313" stroke-width="2.3" filter="url(#bl)"/>
<rect x="210.26" y="554.00" width="10.40" height="10.40" fill="#c8f4c0" stroke="none" stroke-width="1" rx="2.8" filter="url(#bl)"/>
<rect x="211.66" y="555.40" width="7.60" height="7.60" fill="#33c831" stroke="none" stroke-width="1" rx="1.4" filter="url(#bl)"/>
<path d="M212.36,556.10 L218.56,562.30 M218.56,556.10 L212.36,562.30" stroke="#16b415" stroke-width="2.3" filter="url(#bl)"/>
<rect x="222.88" y="554.00" width="10.40" height="10.40" fill="#c8f4c0" stroke="none" stroke-width="1" rx="2.8" filter="url(#bl)"/>
<rect x="224.28" y="555.40" width="7.60" height="7.60" fill="#29c428" stroke="none" stroke-width="1" rx="1.4" filter="url(#bl)"/>
<path d="M224.98,556.10 L231.18,562.30 M231.18,556.10 L224.98,562.30" stroke="#10b110" stroke-width="2.3" filter="url(#bl)"/>
<rect x="235.50" y="554.00" width="10.40" height="10.40" fill="#c8f4c0" stroke="none" stroke-width="1" rx="2.8" filter="url(#bl)"/>
<rect x="236.90" y="555.40" width="7.60" height="7.60" fill="#24c223" stroke="none" stroke-width="1" rx="1.4" filter="url(#bl)"/>
<path d="M237.60,556.10 L243.80,562.30 M243.80,556.10 L237.60,562.30" stroke="#0eb00d" stroke-width="2.3" filter="url(#bl)"/>
<rect x="248.12" y="554.00" width="10.40" height="10.40" fill="#c8f4c0" stroke="none" stroke-width="1" rx="2.8" filter="url(#bl)"/>
<rect x="249.52" y="555.40" width="7.60" height="7.60" fill="#24c223" stroke="none" stroke-width="1" rx="1.4" filter="url(#bl)"/>
<path d="M250.22,556.10 L256.42,562.30 M256.42,556.10 L250.22,562.30" stroke="#0eb00d" stroke-width="2.3" filter="url(#bl)"/>
<rect x="260.74" y="554.00" width="10.40" height="10.40" fill="#c8f4c0" stroke="none" stroke-width="1" rx="2.8" filter="url(#bl)"/>
<rect x="262.14" y="555.40" width="7.60" height="7.60" fill="#29c428" stroke="none" stroke-width="1" rx="1.4" filter="url(#bl)"/>
<path d="M262.84,556.10 L269.04,562.30 M269.04,556.10 L262.84,562.30" stroke="#10b110" stroke-width="2.3" filter="url(#bl)"/>
<rect x="273.36" y="554.00" width="10.40" height="10.40" fill="#c8f4c0" stroke="none" stroke-width="1" rx="2.8" filter="url(#bl)"/>
<rect x="274.76" y="555.40" width="7.60" height="7.60" fill="#24c223" stroke="none" stroke-width="1" rx="1.4" filter="url(#bl)"/>
<path d="M275.46,556.10 L281.66,562.30 M281.66,556.10 L275.46,562.30" stroke="#0eb00d" stroke-width="2.3" filter="url(#bl)"/>
<rect x="285.98" y="554.00" width="10.40" height="10.40" fill="#c8f4c0" stroke="none" stroke-width="1" rx="2.8" filter="url(#bl)"/>
<rect x="287.38" y="555.40" width="7.60" height="7.60" fill="#1fc01f" stroke="none" stroke-width="1" rx="1.4" filter="url(#bl)"/>
<path d="M288.08,556.10 L294.28,562.30 M294.28,556.10 L288.08,562.30" stroke="#0bae0b" stroke-width="2.3" filter="url(#bl)"/>
<rect x="46.20" y="566.40" width="10.40" height="10.40" fill="#c8f4c0" stroke="none" stroke-width="1" rx="2.8" filter="url(#bl)"/>
<rect x="47.60" y="567.80" width="7.60" height="7.60" fill="#5ad855" stroke="none" stroke-width="1" rx="1.4" filter="url(#bl)"/>
<path d="M48.30,568.50 L54.50,574.70 M54.50,568.50 L48.30,574.70" stroke="#2bbf2a" stroke-width="2.3" filter="url(#bl)"/>
<rect x="58.82" y="566.40" width="10.40" height="10.40" fill="#c8f4c0" stroke="none" stroke-width="1" rx="2.8" filter="url(#bl)"/>
<rect x="60.22" y="567.80" width="7.60" height="7.60" fill="#47d043" stroke="none" stroke-width="1" rx="1.4" filter="url(#bl)"/>
<path d="M60.92,568.50 L67.12,574.70 M67.12,568.50 L60.92,574.70" stroke="#21ba20" stroke-width="2.3" filter="url(#bl)"/>
<rect x="71.44" y="566.40" width="10.40" height="10.40" fill="#c8f4c0" stroke="none" stroke-width="1" rx="2.8" filter="url(#bl)"/>
<rect x="72.84" y="567.80" width="7.60" height="7.60" fill="#4bd247" stroke="none" stroke-width="1" rx="1.4" filter="url(#bl)"/>
<path d="M73.54,568.50 L79.74,574.70 M79.74,568.50 L73.54,574.70" stroke="#23bb22" stroke-width="2.3" filter="url(#bl)"/>
<rect x="84.06" y="566.40" width="10.40" height="10.40" fill="#c8f4c0" stroke="none" stroke-width="1" rx="2.8" filter="url(#bl)"/>
<rect x="85.46" y="567.80" width="7.60" height="7.60" fill="#55d650" stroke="none" stroke-width="1" rx="1.4" filter="url(#bl)"/>
<path d="M86.16,568.50 L92.36,574.70 M92.36,568.50 L86.16,574.70" stroke="#29be27" stroke-width="2.3" filter="url(#bl)"/>
<rect x="96.68" y="566.40" width="10.40" height="10.40" fill="#c8f4c0" stroke="none" stroke-width="1" rx="2.8" filter="url(#bl)"/>
<rect x="98.08" y="567.80" width="7.60" height="7.60" fill="#33c831" stroke="none" stroke-width="1" rx="1.4" filter="url(#bl)"/>
<path d="M98.78,568.50 L104.98,574.70 M104.98,568.50 L98.78,574.70" stroke="#16b415" stroke-width="2.3" filter="url(#bl)"/>
<rect x="109.30" y="566.40" width="10.40" height="10.40" fill="#c8f4c0" stroke="none" stroke-width="1" rx="2.8" filter="url(#bl)"/>
<rect x="110.70" y="567.80" width="7.60" height="7.60" fill="#42ce3e" stroke="none" stroke-width="1" rx="1.4" filter="url(#bl)"/>
<path d="M111.40,568.50 L117.60,574.70 M117.60,568.50 L111.40,574.70" stroke="#1eb81d" stroke-width="2.3" filter="url(#bl)"/>
<rect x="121.92" y="566.40" width="10.40" height="10.40" fill="#c8f4c0" stroke="none" stroke-width="1" rx="2.8" filter="url(#bl)"/>
<rect x="123.32" y="567.80" width="7.60" height="7.60" fill="#2ec62c" stroke="none" stroke-width="1" rx="1.4" filter="url(#bl)"/>
<path d="M124.02,568.50 L130.22,574.70 M130.22,568.50 L124.02,574.70" stroke="#13b313" stroke-width="2.3" filter="url(#bl)"/>
<rect x="134.54" y="566.40" width="10.40" height="10.40" fill="#c8f4c0" stroke="none" stroke-width="1" rx="2.8" filter="url(#bl)"/>
<rect x="135.94" y="567.80" width="7.60" height="7.60" fill="#50d44c" stroke="none" stroke-width="1" rx="1.4" filter="url(#bl)"/>
<path d="M136.64,568.50 L142.84,574.70 M142.84,568.50 L136.64,574.70" stroke="#26bc25" stroke-width="2.3" filter="url(#bl)"/>
<rect x="147.16" y="566.40" width="10.40" height="10.40" fill="#c8f4c0" stroke="none" stroke-width="1" rx="2.8" filter="url(#bl)"/>
<rect x="148.56" y="567.80" width="7.60" height="7.60" fill="#3dcc3a" stroke="none" stroke-width="1" rx="1.4" filter="url(#bl)"/>
<path d="M149.26,568.50 L155.46,574.70 M155.46,568.50 L149.26,574.70" stroke="#1bb71a" stroke-width="2.3" filter="url(#bl)"/>
<rect x="159.78" y="566.40" width="10.40" height="10.40" fill="#c8f4c0" stroke="none" stroke-width="1" rx="2.8" filter="url(#bl)"/>
<rect x="161.18" y="567.80" width="7.60" height="7.60" fill="#24c223" stroke="none" stroke-width="1" rx="1.4" filter="url(#bl)"/>
<path d="M161.88,568.50 L168.08,574.70 M168.08,568.50 L161.88,574.70" stroke="#0eb00d" stroke-width="2.3" filter="url(#bl)"/>
<rect x="172.40" y="566.40" width="10.40" height="10.40" fill="#c8f4c0" stroke="none" stroke-width="1" rx="2.8" filter="url(#bl)"/>
<rect x="173.80" y="567.80" width="7.60" height="7.60" fill="#24c223" stroke="none" stroke-width="1" rx="1.4" filter="url(#bl)"/>
<path d="M174.50,568.50 L180.70,574.70 M180.70,568.50 L174.50,574.70" stroke="#0eb00d" stroke-width="2.3" filter="url(#bl)"/>
<rect x="185.02" y="566.40" width="10.40" height="10.40" fill="#c8f4c0" stroke="none" stroke-width="1" rx="2.8" filter="url(#bl)"/>
<rect x="186.42" y="567.80" width="7.60" height="7.60" fill="#29c428" stroke="none" stroke-width="1" rx="1.4" filter="url(#bl)"/>
<path d="M187.12,568.50 L193.32,574.70 M193.32,568.50 L187.12,574.70" stroke="#10b110" stroke-width="2.3" filter="url(#bl)"/>
<rect x="197.64" y="566.40" width="10.40" height="10.40" fill="#c8f4c0" stroke="none" stroke-width="1" rx="2.8" filter="url(#bl)"/>
<rect x="199.04" y="567.80" width="7.60" height="7.60" fill="#29c428" stroke="none" stroke-width="1" rx="1.4" filter="url(#bl)"/>
<path d="M199.74,568.50 L205.94,574.70 M205.94,568.50 L199.74,574.70" stroke="#10b110" stroke-width="2.3" filter="url(#bl)"/>
<rect x="210.26" y="566.40" width="10.40" height="10.40" fill="#c8f4c0" stroke="none" stroke-width="1" rx="2.8" filter="url(#bl)"/>
<rect x="211.66" y="567.80" width="7.60" height="7.60" fill="#2ec62c" stroke="none" stroke-width="1" rx="1.4" filter="url(#bl)"/>
<path d="M212.36,568.50 L218.56,574.70 M218.56,568.50 L212.36,574.70" stroke="#13b313" stroke-width="2.3" filter="url(#bl)"/>
<rect x="222.88" y="566.40" width="10.40" height="10.40" fill="#c8f4c0" stroke="none" stroke-width="1" rx="2.8" filter="url(#bl)"/>
<rect x="224.28" y="567.80" width="7.60" height="7.60" fill="#2ec62c" stroke="none" stroke-width="1" rx="1.4" filter="url(#bl)"/>
<path d="M224.98,568.50 L231.18,574.70 M231.18,568.50 L224.98,574.70" stroke="#13b313" stroke-width="2.3" filter="url(#bl)"/>
<rect x="235.50" y="566.40" width="10.40" height="10.40" fill="#c8f4c0" stroke="none" stroke-width="1" rx="2.8" filter="url(#bl)"/>
<rect x="236.90" y="567.80" width="7.60" height="7.60" fill="#24c223" stroke="none" stroke-width="1" rx="1.4" filter="url(#bl)"/>
<path d="M237.60,568.50 L243.80,574.70 M243.80,568.50 L237.60,574.70" stroke="#0eb00d" stroke-width="2.3" filter="url(#bl)"/>
<rect x="248.12" y="566.40" width="10.40" height="10.40" fill="#c8f4c0" stroke="none" stroke-width="1" rx="2.8" filter="url(#bl)"/>
<rect x="249.52" y="567.80" width="7.60" height="7.60" fill="#1fc01f" stroke="none" stroke-width="1" rx="1.4" filter="url(#bl)"/>
<path d="M250.22,568.50 L256.42,574.70 M256.42,568.50 L250.22,574.70" stroke="#0bae0b" stroke-width="2.3" filter="url(#bl)"/>
<rect x="260.74" y="566.40" width="10.40" height="10.40" fill="#c8f4c0" stroke="none" stroke-width="1" rx="2.8" filter="url(#bl)"/>
<rect x="262.14" y="567.80" width="7.60" height="7.60" fill="#1fc01f" stroke="none" stroke-width="1" rx="1.4" filter="url(#bl)"/>
<path d="M262.84,568.50 L269.04,574.70 M269.04,568.50 L262.84,574.70" stroke="#0bae0b" stroke-width="2.3" filter="url(#bl)"/>
<rect x="273.36" y="566.40" width="10.40" height="10.40" fill="#c8f4c0" stroke="none" stroke-width="1" rx="2.8" filter="url(#bl)"/>
<rect x="274.76" y="567.80" width="7.60" height="7.60" fill="#29c428" stroke="none" stroke-width="1" rx="1.4" filter="url(#bl)"/>
<path d="M275.46,568.50 L281.66,574.70 M281.66,568.50 L275.46,574.70" stroke="#10b110" stroke-width="2.3" filter="url(#bl)"/>
<rect x="285.98" y="566.40" width="10.40" height="10.40" fill="#c8f4c0" stroke="none" stroke-width="1" rx="2.8" filter="url(#bl)"/>
<rect x="287.38" y="567.80" width="7.60" height="7.60" fill="#1fc01f" stroke="none" stroke-width="1" rx="1.4" filter="url(#bl)"/>
<path d="M288.08,568.50 L294.28,574.70 M294.28,568.50 L288.08,574.70" stroke="#0bae0b" stroke-width="2.3" filter="url(#bl)"/>
<rect x="46.20" y="579.00" width="10.40" height="10.40" fill="#c8f4c0" stroke="none" stroke-width="1" rx="2.8" filter="url(#bl)"/>
<rect x="47.60" y="580.40" width="7.60" height="7.60" fill="#5fda59" stroke="none" stroke-width="1" rx="1.4" filter="url(#bl)"/>
<path d="M48.30,581.10 L54.50,587.30 M54.50,581.10 L48.30,587.30" stroke="#2ec12d" stroke-width="2.3" filter="url(#bl)"/>
<rect x="58.82" y="579.00" width="10.40" height="10.40" fill="#c8f4c0" stroke="none" stroke-width="1" rx="2.8" filter="url(#bl)"/>
<rect x="60.22" y="580.40" width="7.60" height="7.60" fill="#4bd247" stroke="none" stroke-width="1" rx="1.4" filter="url(#bl)"/>
<path d="M60.92,581.10 L67.12,587.30 M67.12,581.10 L60.92,587.30" stroke="#23bb22" stroke-width="2.3" filter="url(#bl)"/>
<rect x="71.44" y="579.00" width="10.40" height="10.40" fill="#c8f4c0" stroke="none" stroke-width="1" rx="2.8" filter="url(#bl)"/>
<rect x="72.84" y="580.40" width="7.60" height="7.60" fill="#5ad855" stroke="none" stroke-width="1" rx="1.4" filter="url(#bl)"/>
<path d="M73.54,581.10 L79.74,587.30 M79.74,581.10 L73.54,587.30" stroke="#2bbf2a" stroke-width="2.3" filter="url(#bl)"/>
<rect x="84.06" y="579.00" width="10.40" height="10.40" fill="#c8f4c0" stroke="none" stroke-width="1" rx="2.8" filter="url(#bl)"/>
<rect x="85.46" y="580.40" width="7.60" height="7.60" fill="#5ad855" stroke="none" stroke-width="1" rx="1.4" filter="url(#bl)"/>
<path d="M86.16,581.10 L92.36,587.30 M92.36,581.10 L86.16,587.30" stroke="#2bbf2a" stroke-width="2.3" filter="url(#bl)"/>
<rect x="46.30" y="577.60" width="48.30" height="12.80" fill="none" stroke="#555" stroke-width="1.0" rx="0"/>
<rect x="95.60" y="577.60" width="48.00" height="12.80" fill="none" stroke="#555" stroke-width="1.0" rx="0"/>
<text x="303.60" y="561.50" font-size="8.3" text-anchor="start" fill="#111">20</text>
<text x="303.60" y="573.90" font-size="8.3" text-anchor="start" fill="#111">15</text>
<text x="321.80" y="542.60" font-size="8.3" text-anchor="end" fill="#111">copies/µL</text>
<line x1="71.00" y1="594.30" x2="71.00" y2="598.80" stroke="#111" stroke-width="0.9"/>
<path d="M69.50,595.40 L71.00,592.80 L72.50,595.40 Z" fill="#111"/>
<text x="71.00" y="608.00" font-size="8.7" text-anchor="middle" fill="#111">(+)</text>
<line x1="120.30" y1="594.30" x2="120.30" y2="598.80" stroke="#111" stroke-width="0.9"/>
<path d="M118.80,595.40 L120.30,592.80 L121.80,595.40 Z" fill="#111"/>
<text x="120.30" y="608.00" font-size="8.7" text-anchor="middle" fill="#111">NTC</text>
<rect x="378.20" y="550.20" width="248.20" height="41.20" fill="#fff" stroke="#8c8c8c" stroke-width="1.1" rx="1.2"/>
<rect x="381.10" y="552.70" width="9.60" height="9.60" fill="#44d242" stroke="none" stroke-width="1" rx="2.6" filter="url(#bl)"/>
<rect x="382.50" y="554.10" width="6.80" height="6.80" fill="#1ecb1c" stroke="none" stroke-width="1" rx="1.6" filter="url(#bl2)"/>
<rect x="393.35" y="552.70" width="9.60" height="9.60" fill="#4dd54b" stroke="none" stroke-width="1" rx="2.6" filter="url(#bl)"/>
<rect x="394.75" y="554.10" width="6.80" height="6.80" fill="#25cd23" stroke="none" stroke-width="1" rx="1.6" filter="url(#bl2)"/>
<rect x="405.60" y="552.70" width="9.60" height="9.60" fill="#48d346" stroke="none" stroke-width="1" rx="2.6" filter="url(#bl)"/>
<rect x="407.00" y="554.10" width="6.80" height="6.80" fill="#21cc1f" stroke="none" stroke-width="1" rx="1.6" filter="url(#bl2)"/>
<rect x="417.85" y="552.70" width="9.60" height="9.60" fill="#48d346" stroke="none" stroke-width="1" rx="2.6" filter="url(#bl)"/>
<rect x="419.25" y="554.10" width="6.80" height="6.80" fill="#21cc1f" stroke="none" stroke-width="1" rx="1.6" filter="url(#bl2)"/>
<rect x="430.10" y="552.70" width="9.60" height="9.60" fill="#44d242" stroke="none" stroke-width="1" rx="2.6" filter="url(#bl)"/>
<rect x="431.50" y="554.10" width="6.80" height="6.80" fill="#1ecb1c" stroke="none" stroke-width="1" rx="1.6" filter="url(#bl2)"/>
<rect x="442.35" y="552.70" width="9.60" height="9.60" fill="#3fd13d" stroke="none" stroke-width="1" rx="2.6" filter="url(#bl)"/>
<rect x="443.75" y="554.10" width="6.80" height="6.80" fill="#1aca18" stroke="none" stroke-width="1" rx="1.6" filter="url(#bl2)"/>
<rect x="454.60" y="552.70" width="9.60" height="9.60" fill="#44d242" stroke="none" stroke-width="1" rx="2.6" filter="url(#bl)"/>
<rect x="456.00" y="554.10" width="6.80" height="6.80" fill="#1ecb1c" stroke="none" stroke-width="1" rx="1.6" filter="url(#bl2)"/>
<rect x="466.85" y="552.70" width="9.60" height="9.60" fill="#44d242" stroke="none" stroke-width="1" rx="2.6" filter="url(#bl)"/>
<rect x="468.25" y="554.10" width="6.80" height="6.80" fill="#1ecb1c" stroke="none" stroke-width="1" rx="1.6" filter="url(#bl2)"/>
<rect x="479.10" y="552.70" width="9.60" height="9.60" fill="#65db61" stroke="none" stroke-width="1" rx="2.6" filter="url(#bl)"/>
<rect x="480.50" y="554.10" width="6.80" height="6.80" fill="#38d134" stroke="none" stroke-width="1" rx="1.6" filter="url(#bl2)"/>
<rect x="491.35" y="552.70" width="9.60" height="9.60" fill="#3acf39" stroke="none" stroke-width="1" rx="2.6" filter="url(#bl)"/>
<rect x="492.75" y="554.10" width="6.80" height="6.80" fill="#16c915" stroke="none" stroke-width="1" rx="1.6" filter="url(#bl2)"/>
<rect x="503.60" y="552.70" width="9.60" height="9.60" fill="#35ce34" stroke="none" stroke-width="1" rx="2.6" filter="url(#bl)"/>
<rect x="505.00" y="554.10" width="6.80" height="6.80" fill="#12c811" stroke="none" stroke-width="1" rx="1.6" filter="url(#bl2)"/>
<rect x="515.85" y="552.70" width="9.60" height="9.60" fill="#31cd30" stroke="none" stroke-width="1" rx="2.6" filter="url(#bl)"/>
<rect x="517.25" y="554.10" width="6.80" height="6.80" fill="#0fc70e" stroke="none" stroke-width="1" rx="1.6" filter="url(#bl2)"/>
<rect x="528.10" y="552.70" width="9.60" height="9.60" fill="#35ce34" stroke="none" stroke-width="1" rx="2.6" filter="url(#bl)"/>
<rect x="529.50" y="554.10" width="6.80" height="6.80" fill="#12c811" stroke="none" stroke-width="1" rx="1.6" filter="url(#bl2)"/>
<rect x="540.35" y="552.70" width="9.60" height="9.60" fill="#35ce34" stroke="none" stroke-width="1" rx="2.6" filter="url(#bl)"/>
<rect x="541.75" y="554.10" width="6.80" height="6.80" fill="#12c811" stroke="none" stroke-width="1" rx="1.6" filter="url(#bl2)"/>
<rect x="552.60" y="552.70" width="9.60" height="9.60" fill="#31cd30" stroke="none" stroke-width="1" rx="2.6" filter="url(#bl)"/>
<rect x="554.00" y="554.10" width="6.80" height="6.80" fill="#0fc70e" stroke="none" stroke-width="1" rx="1.6" filter="url(#bl2)"/>
<rect x="564.85" y="552.70" width="9.60" height="9.60" fill="#31cd30" stroke="none" stroke-width="1" rx="2.6" filter="url(#bl)"/>
<rect x="566.25" y="554.10" width="6.80" height="6.80" fill="#0fc70e" stroke="none" stroke-width="1" rx="1.6" filter="url(#bl2)"/>
<rect x="577.10" y="552.70" width="9.60" height="9.60" fill="#31cd30" stroke="none" stroke-width="1" rx="2.6" filter="url(#bl)"/>
<rect x="578.50" y="554.10" width="6.80" height="6.80" fill="#0fc70e" stroke="none" stroke-width="1" rx="1.6" filter="url(#bl2)"/>
<rect x="589.35" y="552.70" width="9.60" height="9.60" fill="#31cd30" stroke="none" stroke-width="1" rx="2.6" filter="url(#bl)"/>
<rect x="590.75" y="554.10" width="6.80" height="6.80" fill="#0fc70e" stroke="none" stroke-width="1" rx="1.6" filter="url(#bl2)"/>
<rect x="601.60" y="552.70" width="9.60" height="9.60" fill="#2ccb2b" stroke="none" stroke-width="1" rx="2.6" filter="url(#bl)"/>
<rect x="603.00" y="554.10" width="6.80" height="6.80" fill="#0bc60a" stroke="none" stroke-width="1" rx="1.6" filter="url(#bl2)"/>
<rect x="613.85" y="552.70" width="9.60" height="9.60" fill="#27ca27" stroke="none" stroke-width="1" rx="2.6" filter="url(#bl)"/>
<rect x="615.25" y="554.10" width="6.80" height="6.80" fill="#07c507" stroke="none" stroke-width="1" rx="1.6" filter="url(#bl2)"/>
<rect x="381.10" y="565.60" width="9.60" height="9.60" fill="#3acf39" stroke="none" stroke-width="1" rx="2.6" filter="url(#bl)"/>
<rect x="382.50" y="567.00" width="6.80" height="6.80" fill="#16c915" stroke="none" stroke-width="1" rx="1.6" filter="url(#bl2)"/>
<rect x="393.35" y="565.60" width="9.60" height="9.60" fill="#3acf39" stroke="none" stroke-width="1" rx="2.6" filter="url(#bl)"/>
<rect x="394.75" y="567.00" width="6.80" height="6.80" fill="#16c915" stroke="none" stroke-width="1" rx="1.6" filter="url(#bl2)"/>
<rect x="405.60" y="565.60" width="9.60" height="9.60" fill="#3acf39" stroke="none" stroke-width="1" rx="2.6" filter="url(#bl)"/>
<rect x="407.00" y="567.00" width="6.80" height="6.80" fill="#16c915" stroke="none" stroke-width="1" rx="1.6" filter="url(#bl2)"/>
<rect x="417.85" y="565.60" width="9.60" height="9.60" fill="#35ce34" stroke="none" stroke-width="1" rx="2.6" filter="url(#bl)"/>
<rect x="419.25" y="567.00" width="6.80" height="6.80" fill="#12c811" stroke="none" stroke-width="1" rx="1.6" filter="url(#bl2)"/>
<rect x="430.10" y="565.60" width="9.60" height="9.60" fill="#3acf39" stroke="none" stroke-width="1" rx="2.6" filter="url(#bl)"/>
<rect x="431.50" y="567.00" width="6.80" height="6.80" fill="#16c915" stroke="none" stroke-width="1" rx="1.6" filter="url(#bl2)"/>
<rect x="442.35" y="565.60" width="9.60" height="9.60" fill="#3acf39" stroke="none" stroke-width="1" rx="2.6" filter="url(#bl)"/>
<rect x="443.75" y="567.00" width="6.80" height="6.80" fill="#16c915" stroke="none" stroke-width="1" rx="1.6" filter="url(#bl2)"/>
<rect x="454.60" y="565.60" width="9.60" height="9.60" fill="#3acf39" stroke="none" stroke-width="1" rx="2.6" filter="url(#bl)"/>
<rect x="456.00" y="567.00" width="6.80" height="6.80" fill="#16c915" stroke="none" stroke-width="1" rx="1.6" filter="url(#bl2)"/>
<rect x="466.85" y="565.60" width="9.60" height="9.60" fill="#35ce34" stroke="none" stroke-width="1" rx="2.6" filter="url(#bl)"/>
<rect x="468.25" y="567.00" width="6.80" height="6.80" fill="#12c811" stroke="none" stroke-width="1" rx="1.6" filter="url(#bl2)"/>
<rect x="479.10" y="565.60" width="9.60" height="9.60" fill="#31cd30" stroke="none" stroke-width="1" rx="2.6" filter="url(#bl)"/>
<rect x="480.50" y="567.00" width="6.80" height="6.80" fill="#0fc70e" stroke="none" stroke-width="1" rx="1.6" filter="url(#bl2)"/>
<rect x="491.35" y="565.60" width="9.60" height="9.60" fill="#35ce34" stroke="none" stroke-width="1" rx="2.6" filter="url(#bl)"/>
<rect x="492.75" y="567.00" width="6.80" height="6.80" fill="#12c811" stroke="none" stroke-width="1" rx="1.6" filter="url(#bl2)"/>
<rect x="503.60" y="565.60" width="9.60" height="9.60" fill="#3acf39" stroke="none" stroke-width="1" rx="2.6" filter="url(#bl)"/>
<rect x="505.00" y="567.00" width="6.80" height="6.80" fill="#16c915" stroke="none" stroke-width="1" rx="1.6" filter="url(#bl2)"/>
<rect x="515.85" y="565.60" width="9.60" height="9.60" fill="#2ccb2b" stroke="none" stroke-width="1" rx="2.6" filter="url(#bl)"/>
<rect x="517.25" y="567.00" width="6.80" height="6.80" fill="#0bc60a" stroke="none" stroke-width="1" rx="1.6" filter="url(#bl2)"/>
<rect x="528.10" y="565.60" width="9.60" height="9.60" fill="#35ce34" stroke="none" stroke-width="1" rx="2.6" filter="url(#bl)"/>
<rect x="529.50" y="567.00" width="6.80" height="6.80" fill="#12c811" stroke="none" stroke-width="1" rx="1.6" filter="url(#bl2)"/>
<rect x="540.35" y="565.60" width="9.60" height="9.60" fill="#44d242" stroke="none" stroke-width="1" rx="2.6" filter="url(#bl)"/>
<rect x="541.75" y="567.00" width="6.80" height="6.80" fill="#1ecb1c" stroke="none" stroke-width="1" rx="1.6" filter="url(#bl2)"/>
<rect x="552.60" y="565.60" width="9.60" height="9.60" fill="#3acf39" stroke="none" stroke-width="1" rx="2.6" filter="url(#bl)"/>
<rect x="554.00" y="567.00" width="6.80" height="6.80" fill="#16c915" stroke="none" stroke-width="1" rx="1.6" filter="url(#bl2)"/>
<rect x="564.85" y="565.60" width="9.60" height="9.60" fill="#57d754" stroke="none" stroke-width="1" rx="2.6" filter="url(#bl)"/>
<rect x="566.25" y="567.00" width="6.80" height="6.80" fill="#2dce2a" stroke="none" stroke-width="1" rx="1.6" filter="url(#bl2)"/>
<rect x="577.10" y="565.60" width="9.60" height="9.60" fill="#27ca27" stroke="none" stroke-width="1" rx="2.6" filter="url(#bl)"/>
<rect x="578.50" y="567.00" width="6.80" height="6.80" fill="#07c507" stroke="none" stroke-width="1" rx="1.6" filter="url(#bl2)"/>
<rect x="589.35" y="565.60" width="9.60" height="9.60" fill="#35ce34" stroke="none" stroke-width="1" rx="2.6" filter="url(#bl)"/>
<rect x="590.75" y="567.00" width="6.80" height="6.80" fill="#12c811" stroke="none" stroke-width="1" rx="1.6" filter="url(#bl2)"/>
<rect x="601.60" y="565.60" width="9.60" height="9.60" fill="#60da5d" stroke="none" stroke-width="1" rx="2.6" filter="url(#bl)"/>
<rect x="603.00" y="567.00" width="6.80" height="6.80" fill="#34d031" stroke="none" stroke-width="1" rx="1.6" filter="url(#bl2)"/>
<rect x="613.85" y="565.60" width="9.60" height="9.60" fill="#65db61" stroke="none" stroke-width="1" rx="2.6" filter="url(#bl)"/>
<rect x="615.25" y="567.00" width="6.80" height="6.80" fill="#38d134" stroke="none" stroke-width="1" rx="1.6" filter="url(#bl2)"/>
<rect x="381.10" y="578.70" width="9.60" height="9.60" fill="#3acf39" stroke="none" stroke-width="1" rx="2.6" filter="url(#bl)"/>
<rect x="382.50" y="580.10" width="6.80" height="6.80" fill="#16c915" stroke="none" stroke-width="1" rx="1.6" filter="url(#bl2)"/>
<rect x="393.35" y="578.70" width="9.60" height="9.60" fill="#3acf39" stroke="none" stroke-width="1" rx="2.6" filter="url(#bl)"/>
<rect x="394.75" y="580.10" width="6.80" height="6.80" fill="#16c915" stroke="none" stroke-width="1" rx="1.6" filter="url(#bl2)"/>
<rect x="405.60" y="578.70" width="9.60" height="9.60" fill="#35ce34" stroke="none" stroke-width="1" rx="2.6" filter="url(#bl)"/>
<rect x="407.00" y="580.10" width="6.80" height="6.80" fill="#12c811" stroke="none" stroke-width="1" rx="1.6" filter="url(#bl2)"/>
<rect x="417.85" y="578.70" width="9.60" height="9.60" fill="#35ce34" stroke="none" stroke-width="1" rx="2.6" filter="url(#bl)"/>
<rect x="419.25" y="580.10" width="6.80" height="6.80" fill="#12c811" stroke="none" stroke-width="1" rx="1.6" filter="url(#bl2)"/>
<rect x="431.40" y="580.00" width="7.00" height="7.00" fill="#f8faf6" stroke="none" stroke-width="1" rx="1.5"/>
<rect x="443.65" y="580.00" width="7.00" height="7.00" fill="#f8faf6" stroke="none" stroke-width="1" rx="1.5"/>
<rect x="455.90" y="580.00" width="7.00" height="7.00" fill="#f8faf6" stroke="none" stroke-width="1" rx="1.5"/>
<rect x="468.15" y="580.00" width="7.00" height="7.00" fill="#f8faf6" stroke="none" stroke-width="1" rx="1.5"/>
<rect x="480.40" y="580.00" width="7.00" height="7.00" fill="#f8faf6" stroke="none" stroke-width="1" rx="1.5"/>
<rect x="380.30" y="577.00" width="48.70" height="12.70" fill="none" stroke="#555" stroke-width="1.0" rx="0"/>
<rect x="430.00" y="577.00" width="47.40" height="12.70" fill="none" stroke="#555" stroke-width="1.0" rx="0"/>
<text x="630.70" y="559.80" font-size="8.3" text-anchor="start" fill="#111">30</text>
<text x="630.70" y="572.70" font-size="8.3" text-anchor="start" fill="#111">25</text>
<text x="649.90" y="541.70" font-size="8.3" text-anchor="end" fill="#111">copies/µL</text>
<line x1="404.30" y1="596.10" x2="404.30" y2="600.60" stroke="#111" stroke-width="0.9"/>
<path d="M402.80,597.20 L404.30,594.60 L405.80,597.20 Z" fill="#111"/>
<text x="404.30" y="609.60" font-size="8.7" text-anchor="middle" fill="#111">(+)</text>
<line x1="451.80" y1="596.10" x2="451.80" y2="600.60" stroke="#111" stroke-width="0.9"/>
<path d="M450.30,597.20 L451.80,594.60 L453.30,597.20 Z" fill="#111"/>
<text x="451.80" y="609.60" font-size="8.7" text-anchor="middle" fill="#111">NTC</text>
</svg>
</body></html>
